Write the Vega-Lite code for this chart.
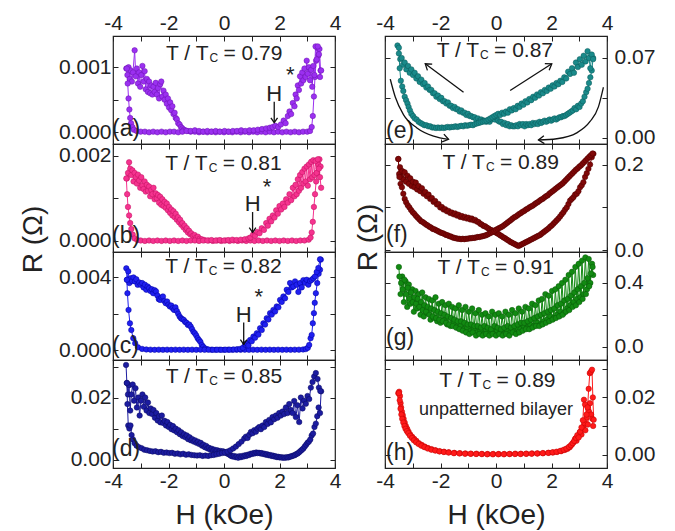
{
"$schema":"https://vega.github.io/schema/vega-lite/v6.json",
"background":"white",
"padding":{"left":18,"top":11,"right":5,"bottom":5},
"config":{
 "view":{"stroke":"#222","strokeWidth":1.2},
 "axis":{"grid":false,"domain":false,"ticks":true,"tickColor":"#222","tickSize":-5,"tickWidth":1,"labelFont":"Liberation Sans","labelFontSize":21,"labelColor":"#222","titleFont":"Liberation Sans","titleFontSize":28,"titleFontWeight":"normal","titleColor":"#222","labelFlush":false,"labelOverlap":false},
 "text":{"font":"Liberation Sans","color":"#222","baseline":"alphabetic"},
 "circle":{"size":30}
},
"bounds":"flush",
"columns":2,
"spacing":{"row":0,"column":50},
"datasets":{
"pa":[
{"b":"d","h":-3.52,"r":0.00098},{"b":"d","h":-3.48,"r":0.00088},{"b":"d","h":-3.44,"r":0.001},{"b":"d","h":-3.4,"r":0.00082},{"b":"d","h":-3.36,"r":0.00095},{"b":"d","h":-3.32,"r":0.00078},{"b":"d","h":-3.28,"r":0.00092},{"b":"d","h":-3.22,"r":0.00126},{"b":"d","h":-3.18,"r":0.00086},{"b":"d","h":-3.14,"r":0.00098},{"b":"d","h":-3.1,"r":0.00075},{"b":"d","h":-3.06,"r":0.00092},{"b":"d","h":-3.02,"r":0.0007},{"b":"d","h":-2.98,"r":0.00088},{"b":"d","h":-2.94,"r":0.00102},{"b":"d","h":-2.9,"r":0.00078},{"b":"d","h":-2.86,"r":0.00094},{"b":"d","h":-2.82,"r":0.00066},{"b":"d","h":-2.78,"r":0.00082},{"b":"d","h":-2.74,"r":0.00062},{"b":"d","h":-2.7,"r":0.00078},{"b":"d","h":-2.66,"r":0.0006},{"b":"d","h":-2.62,"r":0.00072},{"b":"d","h":-2.58,"r":0.00058},{"b":"d","h":-2.54,"r":0.0007},{"b":"d","h":-2.5,"r":0.00062},{"b":"d","h":-2.46,"r":0.00076},{"b":"d","h":-2.42,"r":0.00058},{"b":"d","h":-2.38,"r":0.00068},{"b":"d","h":-2.34,"r":0.00052},{"b":"d","h":-2.3,"r":0.00074},{"b":"d","h":-2.26,"r":0.00078},{"b":"d","h":-2.22,"r":0.00055},{"b":"d","h":-2.18,"r":0.00064},{"b":"d","h":-2.14,"r":0.0005},{"b":"d","h":-2.1,"r":0.00058},{"b":"d","h":-2.06,"r":0.00044},{"b":"d","h":-2.02,"r":0.00052},{"b":"d","h":-1.98,"r":0.00038},{"b":"d","h":-1.94,"r":0.00046},{"b":"d","h":-1.9,"r":0.00034},{"b":"d","h":-1.86,"r":0.0004},{"b":"d","h":-1.82,"r":0.00028},{"b":"d","h":-1.78,"r":0.0003},{"b":"d","h":-1.74,"r":0.00022},{"b":"d","h":-1.7,"r":0.0002},{"b":"d","h":-1.65,"r":0.00014},{"b":"d","h":-1.6,"r":0.00012},{"b":"d","h":-1.55,"r":0.00008},{"b":"d","h":-1.5,"r":0.00006},{"b":"d","h":-1.45,"r":0.00004},{"b":"d","h":-1.4,"r":0.00003},{"b":"d","h":-1.3,"r":0.00002},{"b":"d","h":-1.2,"r":0.00001},{"b":"d","h":-1.05,"r":0.00001},{"b":"d","h":-0.9,"r":0},{"b":"d","h":-0.75,"r":0.00001},{"b":"d","h":-0.6,"r":0},{"b":"d","h":-0.45,"r":0.00001},{"b":"d","h":-0.3,"r":0},{"b":"d","h":-0.15,"r":0.00001},{"b":"d","h":0,"r":0},{"b":"d","h":0.15,"r":0.00001},{"b":"d","h":0.3,"r":0},{"b":"d","h":0.45,"r":0.00001},{"b":"d","h":0.6,"r":0},{"b":"d","h":0.75,"r":0.00001},{"b":"d","h":0.9,"r":0},{"b":"d","h":1.05,"r":0.00001},{"b":"d","h":1.2,"r":0},{"b":"d","h":1.35,"r":0.00001},{"b":"d","h":1.5,"r":0},{"b":"d","h":1.65,"r":0.00001},{"b":"d","h":1.8,"r":0},{"b":"d","h":1.95,"r":0.00001},{"b":"d","h":2.1,"r":0},{"b":"d","h":2.25,"r":0.00001},{"b":"d","h":2.4,"r":0},{"b":"d","h":2.55,"r":0.00001},{"b":"d","h":2.7,"r":0},{"b":"d","h":2.85,"r":0.00001},{"b":"d","h":3,"r":0.00001},{"b":"d","h":3.1,"r":0.00002},{"b":"d","h":3.16,"r":0.00008},{"b":"d","h":3.2,"r":0.00025},{"b":"d","h":3.24,"r":0.00055},{"b":"d","h":3.28,"r":0.00085},{"b":"d","h":3.32,"r":0.0011},{"b":"d","h":3.36,"r":0.0013},{"b":"d","h":3.4,"r":0.00118},{"b":"d","h":3.44,"r":0.00128},{"b":"d","h":3.48,"r":0.00095},
{"b":"u","h":-3.5,"r":0.00098},{"b":"u","h":-3.47,"r":0.00075},{"b":"u","h":-3.44,"r":0.00052},{"b":"u","h":-3.41,"r":0.00035},{"b":"u","h":-3.38,"r":0.00022},{"b":"u","h":-3.35,"r":0.00014},{"b":"u","h":-3.3,"r":0.00008},{"b":"u","h":-3.25,"r":0.00004},{"b":"u","h":-3.15,"r":0.00002},{"b":"u","h":-3.0,"r":0.00001},{"b":"u","h":-2.85,"r":0.00001},{"b":"u","h":-2.7,"r":0},{"b":"u","h":-2.55,"r":0.00001},{"b":"u","h":-2.4,"r":0},{"b":"u","h":-2.25,"r":0.00001},{"b":"u","h":-2.1,"r":0},{"b":"u","h":-1.95,"r":0.00001},{"b":"u","h":-1.8,"r":0.00001},{"b":"u","h":-1.65,"r":0},{"b":"u","h":-1.5,"r":0.00001},{"b":"u","h":-1.35,"r":0.00002},{"b":"u","h":-1.2,"r":0.00002},{"b":"u","h":-1.05,"r":0.00003},{"b":"u","h":-0.9,"r":0.00002},{"b":"u","h":-0.75,"r":0.00001},{"b":"u","h":-0.6,"r":0.00002},{"b":"u","h":-0.45,"r":0.00001},{"b":"u","h":-0.3,"r":0.00002},{"b":"u","h":-0.15,"r":0.00001},{"b":"u","h":0.02,"r":0.00002},{"b":"u","h":0.17,"r":0.00001},{"b":"u","h":0.32,"r":0.00002},{"b":"u","h":0.47,"r":0.00002},{"b":"u","h":0.62,"r":0.00003},{"b":"u","h":0.77,"r":0.00002},{"b":"u","h":0.92,"r":0.00003},{"b":"u","h":1.07,"r":0.00003},{"b":"u","h":1.22,"r":0.00004},{"b":"u","h":1.37,"r":0.00005},{"b":"u","h":1.52,"r":0.00006},{"b":"u","h":1.65,"r":0.00007},{"b":"u","h":1.75,"r":0.00008},{"b":"u","h":1.85,"r":0.0001},{"b":"u","h":1.95,"r":0.00008},{"b":"u","h":2.05,"r":0.00012},{"b":"u","h":2.15,"r":0.00018},{"b":"u","h":2.22,"r":0.00014},{"b":"u","h":2.3,"r":0.00025},{"b":"u","h":2.36,"r":0.00032},{"b":"u","h":2.42,"r":0.00028},{"b":"u","h":2.48,"r":0.00045},{"b":"u","h":2.54,"r":0.0004},{"b":"u","h":2.58,"r":0.00058},{"b":"u","h":2.62,"r":0.00052},{"b":"u","h":2.66,"r":0.00072},{"b":"u","h":2.7,"r":0.00065},{"b":"u","h":2.74,"r":0.00086},{"b":"u","h":2.78,"r":0.00075},{"b":"u","h":2.82,"r":0.00092},{"b":"u","h":2.86,"r":0.0008},{"b":"u","h":2.9,"r":0.00098},{"b":"u","h":2.94,"r":0.00085},{"b":"u","h":2.98,"r":0.0011},{"b":"u","h":3.02,"r":0.0009},{"b":"u","h":3.06,"r":0.001},{"b":"u","h":3.1,"r":0.0008},{"b":"u","h":3.14,"r":0.00096},{"b":"u","h":3.18,"r":0.0007},{"b":"u","h":3.22,"r":0.00102},{"b":"u","h":3.26,"r":0.00088},{"b":"u","h":3.3,"r":0.00132},{"b":"u","h":3.34,"r":0.00112},{"b":"u","h":3.38,"r":0.00132},{"b":"u","h":3.42,"r":0.0012},{"b":"u","h":3.46,"r":0.00085},{"b":"u","h":3.5,"r":0.00095}
],
"pb":[
{"b":"d","h":-3.5,"r":0.00147},{"b":"d","h":-3.46,"r":0.0016},{"b":"d","h":-3.42,"r":0.00185},{"b":"d","h":-3.38,"r":0.0017},{"b":"d","h":-3.34,"r":0.00155},{"b":"d","h":-3.3,"r":0.00166},{"b":"d","h":-3.26,"r":0.0014},{"b":"d","h":-3.22,"r":0.0016},{"b":"d","h":-3.18,"r":0.0015},{"b":"d","h":-3.14,"r":0.00135},{"b":"d","h":-3.1,"r":0.00156},{"b":"d","h":-3.06,"r":0.00142},{"b":"d","h":-3.02,"r":0.00125},{"b":"d","h":-2.98,"r":0.0015},{"b":"d","h":-2.94,"r":0.0013},{"b":"d","h":-2.9,"r":0.00122},{"b":"d","h":-2.86,"r":0.0014},{"b":"d","h":-2.82,"r":0.00116},{"b":"d","h":-2.78,"r":0.00132},{"b":"d","h":-2.74,"r":0.00118},{"b":"d","h":-2.7,"r":0.00128},{"b":"d","h":-2.66,"r":0.00105},{"b":"d","h":-2.62,"r":0.0012},{"b":"d","h":-2.58,"r":0.0011},{"b":"d","h":-2.54,"r":0.00125},{"b":"d","h":-2.5,"r":0.00098},{"b":"d","h":-2.46,"r":0.00112},{"b":"d","h":-2.42,"r":0.001},{"b":"d","h":-2.38,"r":0.00108},{"b":"d","h":-2.34,"r":0.0009},{"b":"d","h":-2.3,"r":0.00104},{"b":"d","h":-2.26,"r":0.00085},{"b":"d","h":-2.22,"r":0.00098},{"b":"d","h":-2.18,"r":0.00082},{"b":"d","h":-2.14,"r":0.00092},{"b":"d","h":-2.1,"r":0.00078},{"b":"d","h":-2.06,"r":0.00088},{"b":"d","h":-2.02,"r":0.00072},{"b":"d","h":-1.98,"r":0.0008},{"b":"d","h":-1.94,"r":0.00066},{"b":"d","h":-1.9,"r":0.00074},{"b":"d","h":-1.86,"r":0.0006},{"b":"d","h":-1.82,"r":0.0007},{"b":"d","h":-1.78,"r":0.00056},{"b":"d","h":-1.74,"r":0.00064},{"b":"d","h":-1.7,"r":0.0005},{"b":"d","h":-1.66,"r":0.00056},{"b":"d","h":-1.62,"r":0.00044},{"b":"d","h":-1.58,"r":0.0005},{"b":"d","h":-1.54,"r":0.00038},{"b":"d","h":-1.5,"r":0.00042},{"b":"d","h":-1.46,"r":0.00032},{"b":"d","h":-1.42,"r":0.00036},{"b":"d","h":-1.38,"r":0.00026},{"b":"d","h":-1.34,"r":0.0003},{"b":"d","h":-1.3,"r":0.0002},{"b":"d","h":-1.26,"r":0.00024},{"b":"d","h":-1.22,"r":0.00016},{"b":"d","h":-1.18,"r":0.00018},{"b":"d","h":-1.12,"r":0.00012},{"b":"d","h":-1.06,"r":0.00014},{"b":"d","h":-1.0,"r":0.00008},{"b":"d","h":-0.94,"r":0.0001},{"b":"d","h":-0.88,"r":0.00005},{"b":"d","h":-0.8,"r":0.00004},{"b":"d","h":-0.7,"r":0.00002},{"b":"d","h":-0.55,"r":0.00001},{"b":"d","h":-0.4,"r":0},{"b":"d","h":-0.25,"r":0.00001},{"b":"d","h":-0.1,"r":0},{"b":"d","h":0.05,"r":0.00001},{"b":"d","h":0.2,"r":0},{"b":"d","h":0.35,"r":0.00001},{"b":"d","h":0.5,"r":0},{"b":"d","h":0.65,"r":0.00001},{"b":"d","h":0.8,"r":0},{"b":"d","h":0.95,"r":0.00001},{"b":"d","h":1.1,"r":0},{"b":"d","h":1.25,"r":0.00001},{"b":"d","h":1.4,"r":0},{"b":"d","h":1.55,"r":0.00001},{"b":"d","h":1.7,"r":0},{"b":"d","h":1.85,"r":0.00001},{"b":"d","h":2.0,"r":0},{"b":"d","h":2.15,"r":0.00001},{"b":"d","h":2.3,"r":0},{"b":"d","h":2.45,"r":0.00001},{"b":"d","h":2.6,"r":0},{"b":"d","h":2.75,"r":0.00001},{"b":"d","h":2.9,"r":0.00001},{"b":"d","h":3.05,"r":0.00003},{"b":"d","h":3.12,"r":0.00008},{"b":"d","h":3.16,"r":0.0002},{"b":"d","h":3.2,"r":0.00045},{"b":"d","h":3.24,"r":0.0008},{"b":"d","h":3.28,"r":0.0011},{"b":"d","h":3.32,"r":0.0014},{"b":"d","h":3.36,"r":0.0016},{"b":"d","h":3.4,"r":0.0018},{"b":"d","h":3.44,"r":0.00192},{"b":"d","h":3.48,"r":0.00175},
{"b":"u","h":-3.52,"r":0.00147},{"b":"u","h":-3.49,"r":0.0011},{"b":"u","h":-3.46,"r":0.0008},{"b":"u","h":-3.42,"r":0.0006},{"b":"u","h":-3.38,"r":0.00042},{"b":"u","h":-3.34,"r":0.00028},{"b":"u","h":-3.29,"r":0.00015},{"b":"u","h":-3.22,"r":0.00006},{"b":"u","h":-3.12,"r":0.00002},{"b":"u","h":-3.0,"r":0.00001},{"b":"u","h":-2.85,"r":0},{"b":"u","h":-2.7,"r":0.00001},{"b":"u","h":-2.55,"r":0},{"b":"u","h":-2.4,"r":0.00001},{"b":"u","h":-2.25,"r":0},{"b":"u","h":-2.1,"r":0.00001},{"b":"u","h":-1.95,"r":0},{"b":"u","h":-1.8,"r":0.00001},{"b":"u","h":-1.65,"r":0},{"b":"u","h":-1.5,"r":0.00001},{"b":"u","h":-1.35,"r":0},{"b":"u","h":-1.2,"r":0.00001},{"b":"u","h":-1.05,"r":0.00001},{"b":"u","h":-0.9,"r":0},{"b":"u","h":-0.75,"r":0.00001},{"b":"u","h":-0.6,"r":0.00001},{"b":"u","h":-0.45,"r":0.00002},{"b":"u","h":-0.3,"r":0.00001},{"b":"u","h":-0.15,"r":0.00002},{"b":"u","h":0.0,"r":0.00001},{"b":"u","h":0.15,"r":0.00002},{"b":"u","h":0.3,"r":0.00003},{"b":"u","h":0.45,"r":0.00002},{"b":"u","h":0.6,"r":0.00003},{"b":"u","h":0.75,"r":0.00004},{"b":"u","h":0.88,"r":0.00006},{"b":"u","h":0.95,"r":0.00008},{"b":"u","h":1.05,"r":0.00015},{"b":"u","h":1.12,"r":0.00012},{"b":"u","h":1.2,"r":0.00021},{"b":"u","h":1.28,"r":0.00018},{"b":"u","h":1.36,"r":0.0003},{"b":"u","h":1.44,"r":0.00026},{"b":"u","h":1.52,"r":0.00042},{"b":"u","h":1.58,"r":0.00036},{"b":"u","h":1.64,"r":0.00052},{"b":"u","h":1.7,"r":0.00046},{"b":"u","h":1.76,"r":0.0006},{"b":"u","h":1.82,"r":0.00055},{"b":"u","h":1.88,"r":0.00072},{"b":"u","h":1.94,"r":0.00064},{"b":"u","h":2.0,"r":0.00082},{"b":"u","h":2.06,"r":0.00074},{"b":"u","h":2.12,"r":0.00088},{"b":"u","h":2.18,"r":0.0008},{"b":"u","h":2.24,"r":0.00098},{"b":"u","h":2.3,"r":0.0009},{"b":"u","h":2.36,"r":0.0011},{"b":"u","h":2.42,"r":0.00096},{"b":"u","h":2.48,"r":0.00125},{"b":"u","h":2.54,"r":0.00105},{"b":"u","h":2.58,"r":0.00132},{"b":"u","h":2.62,"r":0.0011},{"b":"u","h":2.66,"r":0.00145},{"b":"u","h":2.7,"r":0.00118},{"b":"u","h":2.74,"r":0.00155},{"b":"u","h":2.78,"r":0.00125},{"b":"u","h":2.82,"r":0.00162},{"b":"u","h":2.86,"r":0.00135},{"b":"u","h":2.9,"r":0.0017},{"b":"u","h":2.94,"r":0.0014},{"b":"u","h":2.98,"r":0.00175},{"b":"u","h":3.02,"r":0.0013},{"b":"u","h":3.06,"r":0.0018},{"b":"u","h":3.1,"r":0.00145},{"b":"u","h":3.14,"r":0.00186},{"b":"u","h":3.18,"r":0.0015},{"b":"u","h":3.22,"r":0.0019},{"b":"u","h":3.26,"r":0.00155},{"b":"u","h":3.3,"r":0.00188},{"b":"u","h":3.34,"r":0.0016},{"b":"u","h":3.38,"r":0.00192},{"b":"u","h":3.42,"r":0.0017},{"b":"u","h":3.46,"r":0.0015},{"b":"u","h":3.5,"r":0.00125}
],
"pc":[
{"b":"d","h":-3.52,"r":0.0045},{"b":"d","h":-3.49,"r":0.00387},{"b":"d","h":-3.45,"r":0.00433},{"b":"d","h":-3.41,"r":0.00369},{"b":"d","h":-3.36,"r":0.00396},{"b":"d","h":-3.31,"r":0.0038},{"b":"d","h":-3.26,"r":0.004},{"b":"d","h":-3.21,"r":0.00378},{"b":"d","h":-3.16,"r":0.0039},{"b":"d","h":-3.11,"r":0.00359},{"b":"d","h":-3.05,"r":0.00372},{"b":"d","h":-3.0,"r":0.0036},{"b":"d","h":-2.95,"r":0.00369},{"b":"d","h":-2.9,"r":0.00345},{"b":"d","h":-2.85,"r":0.0036},{"b":"d","h":-2.8,"r":0.00332},{"b":"d","h":-2.75,"r":0.0035},{"b":"d","h":-2.7,"r":0.00341},{"b":"d","h":-2.65,"r":0.00325},{"b":"d","h":-2.6,"r":0.00335},{"b":"d","h":-2.55,"r":0.00313},{"b":"d","h":-2.5,"r":0.0033},{"b":"d","h":-2.45,"r":0.00323},{"b":"d","h":-2.4,"r":0.003},{"b":"d","h":-2.35,"r":0.0028},{"b":"d","h":-2.3,"r":0.00276},{"b":"d","h":-2.25,"r":0.0029},{"b":"d","h":-2.2,"r":0.00295},{"b":"d","h":-2.15,"r":0.0027},{"b":"d","h":-2.1,"r":0.00258},{"b":"d","h":-2.05,"r":0.00267},{"b":"d","h":-2.0,"r":0.0025},{"b":"d","h":-1.95,"r":0.0024},{"b":"d","h":-1.9,"r":0.00245},{"b":"d","h":-1.85,"r":0.0023},{"b":"d","h":-1.8,"r":0.00221},{"b":"d","h":-1.75,"r":0.00235},{"b":"d","h":-1.7,"r":0.00215},{"b":"d","h":-1.65,"r":0.002},{"b":"d","h":-1.6,"r":0.00185},{"b":"d","h":-1.55,"r":0.00175},{"b":"d","h":-1.5,"r":0.0017},{"b":"d","h":-1.45,"r":0.00166},{"b":"d","h":-1.4,"r":0.00155},{"b":"d","h":-1.35,"r":0.0015},{"b":"d","h":-1.3,"r":0.00138},{"b":"d","h":-1.25,"r":0.0014},{"b":"d","h":-1.2,"r":0.00129},{"b":"d","h":-1.15,"r":0.00115},{"b":"d","h":-1.1,"r":0.001},{"b":"d","h":-1.05,"r":0.00092},{"b":"d","h":-1.0,"r":0.0008},{"b":"d","h":-0.95,"r":0.00065},{"b":"d","h":-0.9,"r":0.00055},{"b":"d","h":-0.85,"r":0.00045},{"b":"d","h":-0.8,"r":0.00028},{"b":"d","h":-0.75,"r":0.00018},{"b":"d","h":-0.68,"r":0.00009},{"b":"d","h":-0.6,"r":0.00004},{"b":"d","h":-0.45,"r":0.00002},{"b":"d","h":-0.3,"r":0.00001},{"b":"d","h":-0.15,"r":0.00002},{"b":"d","h":0.0,"r":0.00001},{"b":"d","h":0.15,"r":0.00002},{"b":"d","h":0.3,"r":0.00001},{"b":"d","h":0.45,"r":0.00002},{"b":"d","h":0.6,"r":0.00001},{"b":"d","h":0.75,"r":0.00002},{"b":"d","h":0.9,"r":0.00001},{"b":"d","h":1.05,"r":0.00002},{"b":"d","h":1.2,"r":0.00001},{"b":"d","h":1.35,"r":0.00002},{"b":"d","h":1.5,"r":0.00001},{"b":"d","h":1.65,"r":0.00002},{"b":"d","h":1.8,"r":0.00001},{"b":"d","h":1.95,"r":0.00002},{"b":"d","h":2.1,"r":0.00001},{"b":"d","h":2.25,"r":0.00002},{"b":"d","h":2.4,"r":0.00001},{"b":"d","h":2.55,"r":0.00002},{"b":"d","h":2.7,"r":0.00002},{"b":"d","h":2.85,"r":0.00003},{"b":"d","h":2.95,"r":0.00005},{"b":"d","h":3.02,"r":0.00012},{"b":"d","h":3.07,"r":0.00028},{"b":"d","h":3.12,"r":0.00065},{"b":"d","h":3.16,"r":0.00083},{"b":"d","h":3.2,"r":0.00147},{"b":"d","h":3.24,"r":0.00203},{"b":"d","h":3.27,"r":0.0026},{"b":"d","h":3.31,"r":0.00313},{"b":"d","h":3.36,"r":0.00369},{"b":"d","h":3.41,"r":0.0042},{"b":"d","h":3.46,"r":0.00442},{"b":"d","h":3.49,"r":0.00498},
{"b":"u","h":-3.5,"r":0.00387},{"b":"u","h":-3.48,"r":0.00313},{"b":"u","h":-3.44,"r":0.00221},{"b":"u","h":-3.39,"r":0.00147},{"b":"u","h":-3.34,"r":0.0011},{"b":"u","h":-3.27,"r":0.00065},{"b":"u","h":-3.2,"r":0.00037},{"b":"u","h":-3.1,"r":0.00015},{"b":"u","h":-2.95,"r":0.00006},{"b":"u","h":-2.8,"r":0.00003},{"b":"u","h":-2.65,"r":0.00002},{"b":"u","h":-2.5,"r":0.00001},{"b":"u","h":-2.35,"r":0.00002},{"b":"u","h":-2.2,"r":0.00001},{"b":"u","h":-2.05,"r":0.00002},{"b":"u","h":-1.9,"r":0.00001},{"b":"u","h":-1.75,"r":0.00002},{"b":"u","h":-1.6,"r":0.00001},{"b":"u","h":-1.45,"r":0.00002},{"b":"u","h":-1.3,"r":0.00001},{"b":"u","h":-1.15,"r":0.00002},{"b":"u","h":-1.0,"r":0.00001},{"b":"u","h":-0.85,"r":0.00002},{"b":"u","h":-0.7,"r":0.00001},{"b":"u","h":-0.55,"r":0.00002},{"b":"u","h":-0.4,"r":0.00001},{"b":"u","h":-0.25,"r":0.00002},{"b":"u","h":-0.1,"r":0.00001},{"b":"u","h":0.05,"r":0.00002},{"b":"u","h":0.2,"r":0.00002},{"b":"u","h":0.35,"r":0.00003},{"b":"u","h":0.48,"r":0.00004},{"b":"u","h":0.58,"r":0.00006},{"b":"u","h":0.68,"r":0.00012},{"b":"u","h":0.76,"r":0.0003},{"b":"u","h":0.82,"r":0.00037},{"b":"u","h":0.88,"r":0.00025},{"b":"u","h":0.94,"r":0.00055},{"b":"u","h":1.0,"r":0.00048},{"b":"u","h":1.06,"r":0.00074},{"b":"u","h":1.12,"r":0.00068},{"b":"u","h":1.18,"r":0.00092},{"b":"u","h":1.24,"r":0.00085},{"b":"u","h":1.3,"r":0.0012},{"b":"u","h":1.36,"r":0.0011},{"b":"u","h":1.42,"r":0.00147},{"b":"u","h":1.48,"r":0.0014},{"b":"u","h":1.54,"r":0.00175},{"b":"u","h":1.6,"r":0.00168},{"b":"u","h":1.66,"r":0.00203},{"b":"u","h":1.72,"r":0.00195},{"b":"u","h":1.78,"r":0.00221},{"b":"u","h":1.84,"r":0.00212},{"b":"u","h":1.9,"r":0.0024},{"b":"u","h":1.96,"r":0.00235},{"b":"u","h":2.02,"r":0.00276},{"b":"u","h":2.08,"r":0.00265},{"b":"u","h":2.14,"r":0.00295},{"b":"u","h":2.2,"r":0.00285},{"b":"u","h":2.26,"r":0.00332},{"b":"u","h":2.32,"r":0.0032},{"b":"u","h":2.38,"r":0.00369},{"b":"u","h":2.44,"r":0.00345},{"b":"u","h":2.5,"r":0.0035},{"b":"u","h":2.56,"r":0.00378},{"b":"u","h":2.62,"r":0.0036},{"b":"u","h":2.68,"r":0.0032},{"b":"u","h":2.74,"r":0.00369},{"b":"u","h":2.8,"r":0.00345},{"b":"u","h":2.86,"r":0.00385},{"b":"u","h":2.92,"r":0.0037},{"b":"u","h":2.98,"r":0.00387},{"b":"u","h":3.04,"r":0.0036},{"b":"u","h":3.1,"r":0.0038},{"b":"u","h":3.16,"r":0.00387},{"b":"u","h":3.22,"r":0.00395},{"b":"u","h":3.28,"r":0.00405},{"b":"u","h":3.34,"r":0.0043},{"b":"u","h":3.4,"r":0.00452},{"b":"u","h":3.46,"r":0.005}
],
"pd":[
{"b":"d","h":-3.53,"r":0.0305},{"b":"d","h":-3.5,"r":0.0247},{"b":"d","h":-3.46,"r":0.021},{"b":"d","h":-3.42,"r":0.024},{"b":"d","h":-3.38,"r":0.0158},{"b":"d","h":-3.34,"r":0.021},{"b":"d","h":-3.29,"r":0.0242},{"b":"d","h":-3.24,"r":0.019},{"b":"d","h":-3.19,"r":0.023},{"b":"d","h":-3.14,"r":0.0168},{"b":"d","h":-3.09,"r":0.02},{"b":"d","h":-3.04,"r":0.0142},{"b":"d","h":-2.99,"r":0.019},{"b":"d","h":-2.94,"r":0.021},{"b":"d","h":-2.89,"r":0.017},{"b":"d","h":-2.84,"r":0.02},{"b":"d","h":-2.79,"r":0.0158},{"b":"d","h":-2.74,"r":0.0184},{"b":"d","h":-2.69,"r":0.015},{"b":"d","h":-2.64,"r":0.0165},{"b":"d","h":-2.59,"r":0.0147},{"b":"d","h":-2.54,"r":0.016},{"b":"d","h":-2.49,"r":0.0135},{"b":"d","h":-2.44,"r":0.015},{"b":"d","h":-2.39,"r":0.0126},{"b":"d","h":-2.34,"r":0.014},{"b":"d","h":-2.29,"r":0.012},{"b":"d","h":-2.24,"r":0.0142},{"b":"d","h":-2.19,"r":0.0118},{"b":"d","h":-2.14,"r":0.0125},{"b":"d","h":-2.09,"r":0.011},{"b":"d","h":-2.04,"r":0.0121},{"b":"d","h":-1.99,"r":0.0105},{"b":"d","h":-1.94,"r":0.0112},{"b":"d","h":-1.89,"r":0.0098},{"b":"d","h":-1.84,"r":0.0108},{"b":"d","h":-1.79,"r":0.0094},{"b":"d","h":-1.74,"r":0.01},{"b":"d","h":-1.69,"r":0.0088},{"b":"d","h":-1.64,"r":0.0095},{"b":"d","h":-1.59,"r":0.0082},{"b":"d","h":-1.54,"r":0.0088},{"b":"d","h":-1.49,"r":0.0076},{"b":"d","h":-1.44,"r":0.0082},{"b":"d","h":-1.39,"r":0.0072},{"b":"d","h":-1.34,"r":0.0078},{"b":"d","h":-1.29,"r":0.0066},{"b":"d","h":-1.24,"r":0.0072},{"b":"d","h":-1.19,"r":0.0062},{"b":"d","h":-1.14,"r":0.0066},{"b":"d","h":-1.09,"r":0.0058},{"b":"d","h":-1.04,"r":0.0062},{"b":"d","h":-0.99,"r":0.0054},{"b":"d","h":-0.94,"r":0.0058},{"b":"d","h":-0.89,"r":0.005},{"b":"d","h":-0.84,"r":0.0054},{"b":"d","h":-0.79,"r":0.0045},{"b":"d","h":-0.74,"r":0.0048},{"b":"d","h":-0.69,"r":0.004},{"b":"d","h":-0.64,"r":0.0044},{"b":"d","h":-0.59,"r":0.0036},{"b":"d","h":-0.54,"r":0.0038},{"b":"d","h":-0.49,"r":0.0032},{"b":"d","h":-0.44,"r":0.0035},{"b":"d","h":-0.39,"r":0.003},{"b":"d","h":-0.34,"r":0.0032},{"b":"d","h":-0.29,"r":0.0028},{"b":"d","h":-0.24,"r":0.003},{"b":"d","h":-0.19,"r":0.0026},{"b":"d","h":-0.14,"r":0.0028},{"b":"d","h":-0.09,"r":0.0025},{"b":"d","h":-0.04,"r":0.0027},{"b":"d","h":0.01,"r":0.0023},{"b":"d","h":0.06,"r":0.0024},{"b":"d","h":0.11,"r":0.002},{"b":"d","h":0.16,"r":0.0018},{"b":"d","h":0.21,"r":0.0015},{"b":"d","h":0.26,"r":0.0012},{"b":"d","h":0.31,"r":0.001},{"b":"d","h":0.36,"r":0.0012},{"b":"d","h":0.41,"r":0.0008},{"b":"d","h":0.46,"r":0.001},{"b":"d","h":0.51,"r":0.0006},{"b":"d","h":0.56,"r":0.0011},{"b":"d","h":0.61,"r":0.0008},{"b":"d","h":0.66,"r":0.0012},{"b":"d","h":0.71,"r":0.001},{"b":"d","h":0.76,"r":0.0014},{"b":"d","h":0.81,"r":0.0012},{"b":"d","h":0.86,"r":0.0016},{"b":"d","h":0.91,"r":0.0015},{"b":"d","h":0.96,"r":0.0019},{"b":"d","h":1.01,"r":0.0018},{"b":"d","h":1.06,"r":0.0021},{"b":"d","h":1.11,"r":0.002},{"b":"d","h":1.16,"r":0.0023},{"b":"d","h":1.21,"r":0.0021},{"b":"d","h":1.26,"r":0.0022},{"b":"d","h":1.31,"r":0.002},{"b":"d","h":1.36,"r":0.0021},{"b":"d","h":1.41,"r":0.0018},{"b":"d","h":1.46,"r":0.0019},{"b":"d","h":1.51,"r":0.0016},{"b":"d","h":1.56,"r":0.0017},{"b":"d","h":1.61,"r":0.0014},{"b":"d","h":1.66,"r":0.0015},{"b":"d","h":1.71,"r":0.0012},{"b":"d","h":1.76,"r":0.0013},{"b":"d","h":1.81,"r":0.001},{"b":"d","h":1.86,"r":0.0011},{"b":"d","h":1.91,"r":0.0008},{"b":"d","h":1.96,"r":0.0009},{"b":"d","h":2.01,"r":0.0007},{"b":"d","h":2.06,"r":0.0008},{"b":"d","h":2.11,"r":0.0006},{"b":"d","h":2.16,"r":0.0007},{"b":"d","h":2.21,"r":0.0006},{"b":"d","h":2.26,"r":0.0008},{"b":"d","h":2.31,"r":0.0007},{"b":"d","h":2.36,"r":0.0009},{"b":"d","h":2.41,"r":0.001},{"b":"d","h":2.46,"r":0.0012},{"b":"d","h":2.51,"r":0.0013},{"b":"d","h":2.56,"r":0.0015},{"b":"d","h":2.61,"r":0.0018},{"b":"d","h":2.66,"r":0.002},{"b":"d","h":2.71,"r":0.0024},{"b":"d","h":2.76,"r":0.0028},{"b":"d","h":2.81,"r":0.0032},{"b":"d","h":2.86,"r":0.0036},{"b":"d","h":2.91,"r":0.0042},{"b":"d","h":2.96,"r":0.0048},{"b":"d","h":3.01,"r":0.0054},{"b":"d","h":3.06,"r":0.0058},{"b":"d","h":3.11,"r":0.0065},{"b":"d","h":3.16,"r":0.0078},{"b":"d","h":3.21,"r":0.0084},{"b":"d","h":3.26,"r":0.0105},{"b":"d","h":3.31,"r":0.0116},{"b":"d","h":3.36,"r":0.014},{"b":"d","h":3.41,"r":0.0168},{"b":"d","h":3.46,"r":0.015},{"b":"d","h":3.5,"r":0.022},
{"b":"u","h":-3.5,"r":0.0247},{"b":"u","h":-3.48,"r":0.0179},{"b":"u","h":-3.45,"r":0.011},{"b":"u","h":-3.41,"r":0.01},{"b":"u","h":-3.37,"r":0.011},{"b":"u","h":-3.33,"r":0.0079},{"b":"u","h":-3.28,"r":0.0065},{"b":"u","h":-3.22,"r":0.0053},{"b":"u","h":-3.15,"r":0.0045},{"b":"u","h":-3.07,"r":0.004},{"b":"u","h":-2.97,"r":0.0037},{"b":"u","h":-2.87,"r":0.0032},{"b":"u","h":-2.77,"r":0.003},{"b":"u","h":-2.67,"r":0.0028},{"b":"u","h":-2.57,"r":0.0026},{"b":"u","h":-2.47,"r":0.0027},{"b":"u","h":-2.37,"r":0.0024},{"b":"u","h":-2.27,"r":0.0025},{"b":"u","h":-2.17,"r":0.0022},{"b":"u","h":-2.07,"r":0.0023},{"b":"u","h":-1.97,"r":0.0021},{"b":"u","h":-1.87,"r":0.0022},{"b":"u","h":-1.77,"r":0.0019},{"b":"u","h":-1.67,"r":0.002},{"b":"u","h":-1.57,"r":0.0017},{"b":"u","h":-1.47,"r":0.0019},{"b":"u","h":-1.37,"r":0.0016},{"b":"u","h":-1.27,"r":0.0017},{"b":"u","h":-1.17,"r":0.0015},{"b":"u","h":-1.07,"r":0.0014},{"b":"u","h":-0.97,"r":0.0013},{"b":"u","h":-0.87,"r":0.0014},{"b":"u","h":-0.77,"r":0.0012},{"b":"u","h":-0.67,"r":0.0013},{"b":"u","h":-0.57,"r":0.0012},{"b":"u","h":-0.47,"r":0.0014},{"b":"u","h":-0.37,"r":0.0015},{"b":"u","h":-0.27,"r":0.0017},{"b":"u","h":-0.17,"r":0.0019},{"b":"u","h":-0.07,"r":0.0021},{"b":"u","h":0.03,"r":0.0023},{"b":"u","h":0.13,"r":0.0026},{"b":"u","h":0.23,"r":0.003},{"b":"u","h":0.33,"r":0.0036},{"b":"u","h":0.43,"r":0.0042},{"b":"u","h":0.53,"r":0.005},{"b":"u","h":0.63,"r":0.0058},{"b":"u","h":0.73,"r":0.0068},{"b":"u","h":0.79,"r":0.0074},{"b":"u","h":0.85,"r":0.007},{"b":"u","h":0.91,"r":0.008},{"b":"u","h":0.97,"r":0.0089},{"b":"u","h":1.03,"r":0.0085},{"b":"u","h":1.09,"r":0.0095},{"b":"u","h":1.15,"r":0.009},{"b":"u","h":1.21,"r":0.01},{"b":"u","h":1.27,"r":0.0105},{"b":"u","h":1.33,"r":0.0098},{"b":"u","h":1.39,"r":0.011},{"b":"u","h":1.45,"r":0.0105},{"b":"u","h":1.51,"r":0.0121},{"b":"u","h":1.57,"r":0.0115},{"b":"u","h":1.63,"r":0.0128},{"b":"u","h":1.69,"r":0.012},{"b":"u","h":1.75,"r":0.0137},{"b":"u","h":1.81,"r":0.013},{"b":"u","h":1.87,"r":0.0142},{"b":"u","h":1.93,"r":0.0135},{"b":"u","h":1.99,"r":0.015},{"b":"u","h":2.05,"r":0.0142},{"b":"u","h":2.11,"r":0.0155},{"b":"u","h":2.17,"r":0.0147},{"b":"u","h":2.23,"r":0.0168},{"b":"u","h":2.29,"r":0.015},{"b":"u","h":2.35,"r":0.0179},{"b":"u","h":2.41,"r":0.016},{"b":"u","h":2.47,"r":0.015},{"b":"u","h":2.53,"r":0.0189},{"b":"u","h":2.59,"r":0.0137},{"b":"u","h":2.65,"r":0.0175},{"b":"u","h":2.71,"r":0.0121},{"b":"u","h":2.77,"r":0.02},{"b":"u","h":2.83,"r":0.0165},{"b":"u","h":2.89,"r":0.019},{"b":"u","h":2.95,"r":0.018},{"b":"u","h":3.01,"r":0.0205},{"b":"u","h":3.07,"r":0.0195},{"b":"u","h":3.13,"r":0.0232},{"b":"u","h":3.19,"r":0.025},{"b":"u","h":3.25,"r":0.0268},{"b":"u","h":3.31,"r":0.0279},{"b":"u","h":3.37,"r":0.026},{"b":"u","h":3.42,"r":0.0232},{"b":"u","h":3.47,"r":0.0221}
],
"pe":[
{"b":"d","h":-3.55,"r":0.081},{"b":"d","h":-3.5,"r":0.074},{"b":"d","h":-3.45,"r":0.069},{"b":"d","h":-3.4,"r":0.07},{"b":"d","h":-3.35,"r":0.064},{"b":"d","h":-3.29,"r":0.066},{"b":"d","h":-3.23,"r":0.06},{"b":"d","h":-3.17,"r":0.063},{"b":"d","h":-3.11,"r":0.057},{"b":"d","h":-3.05,"r":0.06},{"b":"d","h":-2.99,"r":0.055},{"b":"d","h":-2.93,"r":0.057},{"b":"d","h":-2.87,"r":0.052},{"b":"d","h":-2.81,"r":0.054},{"b":"d","h":-2.75,"r":0.049},{"b":"d","h":-2.69,"r":0.051},{"b":"d","h":-2.63,"r":0.047},{"b":"d","h":-2.57,"r":0.048},{"b":"d","h":-2.51,"r":0.044},{"b":"d","h":-2.45,"r":0.045},{"b":"d","h":-2.39,"r":0.042},{"b":"d","h":-2.33,"r":0.042},{"b":"d","h":-2.27,"r":0.039},{"b":"d","h":-2.21,"r":0.039},{"b":"d","h":-2.15,"r":0.036},{"b":"d","h":-2.09,"r":0.037},{"b":"d","h":-2.03,"r":0.034},{"b":"d","h":-1.97,"r":0.035},{"b":"d","h":-1.91,"r":0.032},{"b":"d","h":-1.85,"r":0.032},{"b":"d","h":-1.79,"r":0.03},{"b":"d","h":-1.73,"r":0.031},{"b":"d","h":-1.67,"r":0.028},{"b":"d","h":-1.61,"r":0.028},{"b":"d","h":-1.55,"r":0.026},{"b":"d","h":-1.49,"r":0.027},{"b":"d","h":-1.43,"r":0.025},{"b":"d","h":-1.37,"r":0.025},{"b":"d","h":-1.31,"r":0.023},{"b":"d","h":-1.25,"r":0.024},{"b":"d","h":-1.19,"r":0.022},{"b":"d","h":-1.13,"r":0.022},{"b":"d","h":-1.07,"r":0.02},{"b":"d","h":-1.01,"r":0.021},{"b":"d","h":-0.95,"r":0.019},{"b":"d","h":-0.89,"r":0.019},{"b":"d","h":-0.83,"r":0.018},{"b":"d","h":-0.77,"r":0.018},{"b":"d","h":-0.71,"r":0.016},{"b":"d","h":-0.65,"r":0.017},{"b":"d","h":-0.59,"r":0.015},{"b":"d","h":-0.53,"r":0.016},{"b":"d","h":-0.47,"r":0.015},{"b":"d","h":-0.41,"r":0.015},{"b":"d","h":-0.35,"r":0.014},{"b":"d","h":-0.29,"r":0.015},{"b":"d","h":-0.23,"r":0.014},{"b":"d","h":-0.17,"r":0.016},{"b":"d","h":-0.11,"r":0.017},{"b":"d","h":-0.05,"r":0.016},{"b":"d","h":0.01,"r":0.018},{"b":"d","h":0.07,"r":0.015},{"b":"d","h":0.13,"r":0.014},{"b":"d","h":0.19,"r":0.014},{"b":"d","h":0.25,"r":0.012},{"b":"d","h":0.31,"r":0.013},{"b":"d","h":0.37,"r":0.011},{"b":"d","h":0.43,"r":0.012},{"b":"d","h":0.49,"r":0.01},{"b":"d","h":0.55,"r":0.011},{"b":"d","h":0.61,"r":0.01},{"b":"d","h":0.67,"r":0.01},{"b":"d","h":0.73,"r":0.011},{"b":"d","h":0.79,"r":0.01},{"b":"d","h":0.85,"r":0.012},{"b":"d","h":0.91,"r":0.011},{"b":"d","h":0.97,"r":0.012},{"b":"d","h":1.03,"r":0.01},{"b":"d","h":1.09,"r":0.012},{"b":"d","h":1.15,"r":0.011},{"b":"d","h":1.21,"r":0.012},{"b":"d","h":1.27,"r":0.011},{"b":"d","h":1.33,"r":0.013},{"b":"d","h":1.39,"r":0.012},{"b":"d","h":1.45,"r":0.013},{"b":"d","h":1.51,"r":0.012},{"b":"d","h":1.57,"r":0.014},{"b":"d","h":1.63,"r":0.013},{"b":"d","h":1.69,"r":0.014},{"b":"d","h":1.75,"r":0.015},{"b":"d","h":1.81,"r":0.014},{"b":"d","h":1.87,"r":0.015},{"b":"d","h":1.93,"r":0.016},{"b":"d","h":1.99,"r":0.015},{"b":"d","h":2.05,"r":0.016},{"b":"d","h":2.11,"r":0.017},{"b":"d","h":2.17,"r":0.016},{"b":"d","h":2.23,"r":0.017},{"b":"d","h":2.29,"r":0.018},{"b":"d","h":2.35,"r":0.018},{"b":"d","h":2.41,"r":0.019},{"b":"d","h":2.47,"r":0.019},{"b":"d","h":2.53,"r":0.02},{"b":"d","h":2.59,"r":0.021},{"b":"d","h":2.65,"r":0.022},{"b":"d","h":2.71,"r":0.023},{"b":"d","h":2.77,"r":0.024},{"b":"d","h":2.83,"r":0.026},{"b":"d","h":2.89,"r":0.025},{"b":"d","h":2.95,"r":0.028},{"b":"d","h":3.01,"r":0.027},{"b":"d","h":3.07,"r":0.03},{"b":"d","h":3.13,"r":0.032},{"b":"d","h":3.19,"r":0.036},{"b":"d","h":3.25,"r":0.04},{"b":"d","h":3.3,"r":0.043},{"b":"d","h":3.35,"r":0.048},{"b":"d","h":3.4,"r":0.053},{"b":"d","h":3.45,"r":0.059},{"b":"d","h":3.5,"r":0.07},
{"b":"u","h":-3.5,"r":0.079},{"b":"u","h":-3.47,"r":0.061},{"b":"u","h":-3.43,"r":0.05},{"b":"u","h":-3.38,"r":0.045},{"b":"u","h":-3.34,"r":0.041},{"b":"u","h":-3.29,"r":0.036},{"b":"u","h":-3.24,"r":0.033},{"b":"u","h":-3.19,"r":0.03},{"b":"u","h":-3.15,"r":0.027},{"b":"u","h":-3.1,"r":0.024},{"b":"u","h":-3.05,"r":0.021},{"b":"u","h":-2.99,"r":0.019},{"b":"u","h":-2.93,"r":0.017},{"b":"u","h":-2.86,"r":0.016},{"b":"u","h":-2.79,"r":0.014},{"b":"u","h":-2.72,"r":0.013},{"b":"u","h":-2.65,"r":0.012},{"b":"u","h":-2.58,"r":0.011},{"b":"u","h":-2.51,"r":0.011},{"b":"u","h":-2.44,"r":0.01},{"b":"u","h":-2.37,"r":0.01},{"b":"u","h":-2.3,"r":0.009},{"b":"u","h":-2.23,"r":0.009},{"b":"u","h":-2.16,"r":0.0085},{"b":"u","h":-2.09,"r":0.009},{"b":"u","h":-2.02,"r":0.0085},{"b":"u","h":-1.95,"r":0.009},{"b":"u","h":-1.88,"r":0.0085},{"b":"u","h":-1.81,"r":0.009},{"b":"u","h":-1.74,"r":0.0095},{"b":"u","h":-1.67,"r":0.009},{"b":"u","h":-1.6,"r":0.0095},{"b":"u","h":-1.53,"r":0.0095},{"b":"u","h":-1.46,"r":0.01},{"b":"u","h":-1.39,"r":0.0095},{"b":"u","h":-1.32,"r":0.01},{"b":"u","h":-1.25,"r":0.0105},{"b":"u","h":-1.18,"r":0.01},{"b":"u","h":-1.11,"r":0.011},{"b":"u","h":-1.04,"r":0.0105},{"b":"u","h":-0.97,"r":0.011},{"b":"u","h":-0.9,"r":0.0115},{"b":"u","h":-0.83,"r":0.011},{"b":"u","h":-0.76,"r":0.012},{"b":"u","h":-0.69,"r":0.0125},{"b":"u","h":-0.62,"r":0.013},{"b":"u","h":-0.55,"r":0.0135},{"b":"u","h":-0.48,"r":0.014},{"b":"u","h":-0.41,"r":0.0145},{"b":"u","h":-0.34,"r":0.015},{"b":"u","h":-0.27,"r":0.016},{"b":"u","h":-0.2,"r":0.017},{"b":"u","h":-0.13,"r":0.018},{"b":"u","h":-0.06,"r":0.019},{"b":"u","h":0.01,"r":0.02},{"b":"u","h":0.08,"r":0.021},{"b":"u","h":0.15,"r":0.02},{"b":"u","h":0.22,"r":0.022},{"b":"u","h":0.29,"r":0.021},{"b":"u","h":0.36,"r":0.023},{"b":"u","h":0.43,"r":0.022},{"b":"u","h":0.5,"r":0.025},{"b":"u","h":0.57,"r":0.024},{"b":"u","h":0.64,"r":0.026},{"b":"u","h":0.71,"r":0.025},{"b":"u","h":0.78,"r":0.028},{"b":"u","h":0.85,"r":0.027},{"b":"u","h":0.92,"r":0.03},{"b":"u","h":0.99,"r":0.029},{"b":"u","h":1.06,"r":0.032},{"b":"u","h":1.13,"r":0.031},{"b":"u","h":1.2,"r":0.034},{"b":"u","h":1.27,"r":0.033},{"b":"u","h":1.34,"r":0.036},{"b":"u","h":1.41,"r":0.035},{"b":"u","h":1.48,"r":0.038},{"b":"u","h":1.55,"r":0.037},{"b":"u","h":1.62,"r":0.04},{"b":"u","h":1.69,"r":0.039},{"b":"u","h":1.76,"r":0.042},{"b":"u","h":1.83,"r":0.041},{"b":"u","h":1.9,"r":0.044},{"b":"u","h":1.97,"r":0.043},{"b":"u","h":2.04,"r":0.046},{"b":"u","h":2.11,"r":0.045},{"b":"u","h":2.18,"r":0.048},{"b":"u","h":2.25,"r":0.047},{"b":"u","h":2.32,"r":0.05},{"b":"u","h":2.39,"r":0.049},{"b":"u","h":2.46,"r":0.053},{"b":"u","h":2.53,"r":0.052},{"b":"u","h":2.6,"r":0.058},{"b":"u","h":2.67,"r":0.056},{"b":"u","h":2.74,"r":0.061},{"b":"u","h":2.81,"r":0.057},{"b":"u","h":2.88,"r":0.066},{"b":"u","h":2.95,"r":0.062},{"b":"u","h":3.02,"r":0.069},{"b":"u","h":3.09,"r":0.064},{"b":"u","h":3.16,"r":0.072},{"b":"u","h":3.23,"r":0.067},{"b":"u","h":3.3,"r":0.076},{"b":"u","h":3.35,"r":0.07},{"b":"u","h":3.4,"r":0.061},{"b":"u","h":3.45,"r":0.073},{"b":"u","h":3.5,"r":0.069}
],
"pf":[
{"b":"d","h":-3.52,"r":0.213},{"b":"d","h":-3.49,"r":0.178},{"b":"d","h":-3.46,"r":0.194},{"b":"d","h":-3.42,"r":0.171},{"b":"d","h":-3.38,"r":0.185},{"b":"d","h":-3.34,"r":0.165},{"b":"d","h":-3.29,"r":0.182},{"b":"d","h":-3.24,"r":0.16},{"b":"d","h":-3.19,"r":0.174},{"b":"d","h":-3.14,"r":0.155},{"b":"d","h":-3.09,"r":0.168},{"b":"d","h":-3.04,"r":0.15},{"b":"d","h":-2.99,"r":0.16},{"b":"d","h":-2.94,"r":0.147},{"b":"d","h":-2.89,"r":0.158},{"b":"d","h":-2.84,"r":0.142},{"b":"d","h":-2.79,"r":0.15},{"b":"d","h":-2.73,"r":0.138},{"b":"d","h":-2.67,"r":0.145},{"b":"d","h":-2.61,"r":0.132},{"b":"d","h":-2.55,"r":0.136},{"b":"d","h":-2.49,"r":0.126},{"b":"d","h":-2.43,"r":0.13},{"b":"d","h":-2.37,"r":0.12},{"b":"d","h":-2.31,"r":0.122},{"b":"d","h":-2.25,"r":0.113},{"b":"d","h":-2.19,"r":0.115},{"b":"d","h":-2.13,"r":0.107},{"b":"d","h":-2.07,"r":0.108},{"b":"d","h":-2.01,"r":0.1},{"b":"d","h":-1.95,"r":0.101},{"b":"d","h":-1.89,"r":0.095},{"b":"d","h":-1.83,"r":0.096},{"b":"d","h":-1.77,"r":0.091},{"b":"d","h":-1.71,"r":0.092},{"b":"d","h":-1.65,"r":0.087},{"b":"d","h":-1.59,"r":0.088},{"b":"d","h":-1.53,"r":0.084},{"b":"d","h":-1.47,"r":0.086},{"b":"d","h":-1.41,"r":0.081},{"b":"d","h":-1.35,"r":0.083},{"b":"d","h":-1.29,"r":0.078},{"b":"d","h":-1.23,"r":0.08},{"b":"d","h":-1.17,"r":0.076},{"b":"d","h":-1.11,"r":0.078},{"b":"d","h":-1.05,"r":0.074},{"b":"d","h":-0.99,"r":0.076},{"b":"d","h":-0.93,"r":0.072},{"b":"d","h":-0.87,"r":0.074},{"b":"d","h":-0.81,"r":0.07},{"b":"d","h":-0.75,"r":0.071},{"b":"d","h":-0.69,"r":0.067},{"b":"d","h":-0.63,"r":0.066},{"b":"d","h":-0.57,"r":0.062},{"b":"d","h":-0.51,"r":0.06},{"b":"d","h":-0.45,"r":0.057},{"b":"d","h":-0.39,"r":0.056},{"b":"d","h":-0.33,"r":0.053},{"b":"d","h":-0.27,"r":0.051},{"b":"d","h":-0.21,"r":0.048},{"b":"d","h":-0.15,"r":0.047},{"b":"d","h":-0.09,"r":0.044},{"b":"d","h":-0.03,"r":0.043},{"b":"d","h":0.03,"r":0.04},{"b":"d","h":0.09,"r":0.038},{"b":"d","h":0.15,"r":0.035},{"b":"d","h":0.21,"r":0.033},{"b":"d","h":0.27,"r":0.03},{"b":"d","h":0.33,"r":0.028},{"b":"d","h":0.39,"r":0.025},{"b":"d","h":0.45,"r":0.023},{"b":"d","h":0.51,"r":0.02},{"b":"d","h":0.57,"r":0.018},{"b":"d","h":0.63,"r":0.016},{"b":"d","h":0.69,"r":0.014},{"b":"d","h":0.75,"r":0.012},{"b":"d","h":0.81,"r":0.01},{"b":"d","h":0.87,"r":0.012},{"b":"d","h":0.93,"r":0.014},{"b":"d","h":0.99,"r":0.016},{"b":"d","h":1.05,"r":0.018},{"b":"d","h":1.11,"r":0.02},{"b":"d","h":1.17,"r":0.022},{"b":"d","h":1.23,"r":0.024},{"b":"d","h":1.29,"r":0.026},{"b":"d","h":1.35,"r":0.028},{"b":"d","h":1.41,"r":0.03},{"b":"d","h":1.47,"r":0.032},{"b":"d","h":1.53,"r":0.034},{"b":"d","h":1.59,"r":0.036},{"b":"d","h":1.65,"r":0.039},{"b":"d","h":1.71,"r":0.042},{"b":"d","h":1.77,"r":0.045},{"b":"d","h":1.83,"r":0.048},{"b":"d","h":1.89,"r":0.051},{"b":"d","h":1.95,"r":0.055},{"b":"d","h":2.01,"r":0.058},{"b":"d","h":2.07,"r":0.062},{"b":"d","h":2.13,"r":0.066},{"b":"d","h":2.19,"r":0.07},{"b":"d","h":2.25,"r":0.074},{"b":"d","h":2.31,"r":0.079},{"b":"d","h":2.37,"r":0.084},{"b":"d","h":2.43,"r":0.089},{"b":"d","h":2.49,"r":0.095},{"b":"d","h":2.55,"r":0.1},{"b":"d","h":2.61,"r":0.108},{"b":"d","h":2.67,"r":0.116},{"b":"d","h":2.73,"r":0.12},{"b":"d","h":2.79,"r":0.124},{"b":"d","h":2.85,"r":0.13},{"b":"d","h":2.91,"r":0.132},{"b":"d","h":2.97,"r":0.138},{"b":"d","h":3.03,"r":0.147},{"b":"d","h":3.09,"r":0.152},{"b":"d","h":3.15,"r":0.159},{"b":"d","h":3.21,"r":0.171},{"b":"d","h":3.27,"r":0.18},{"b":"d","h":3.33,"r":0.19},{"b":"d","h":3.39,"r":0.2},{"b":"d","h":3.45,"r":0.217},{"b":"d","h":3.51,"r":0.225},
{"b":"u","h":-3.52,"r":0.213},{"b":"u","h":-3.48,"r":0.171},{"b":"u","h":-3.44,"r":0.155},{"b":"u","h":-3.39,"r":0.147},{"b":"u","h":-3.34,"r":0.132},{"b":"u","h":-3.29,"r":0.12},{"b":"u","h":-3.24,"r":0.112},{"b":"u","h":-3.18,"r":0.105},{"b":"u","h":-3.12,"r":0.1},{"b":"u","h":-3.06,"r":0.094},{"b":"u","h":-3.0,"r":0.089},{"b":"u","h":-2.94,"r":0.085},{"b":"u","h":-2.88,"r":0.08},{"b":"u","h":-2.82,"r":0.076},{"b":"u","h":-2.76,"r":0.072},{"b":"u","h":-2.7,"r":0.068},{"b":"u","h":-2.64,"r":0.066},{"b":"u","h":-2.58,"r":0.063},{"b":"u","h":-2.52,"r":0.06},{"b":"u","h":-2.46,"r":0.058},{"b":"u","h":-2.4,"r":0.055},{"b":"u","h":-2.34,"r":0.053},{"b":"u","h":-2.28,"r":0.05},{"b":"u","h":-2.22,"r":0.049},{"b":"u","h":-2.16,"r":0.047},{"b":"u","h":-2.1,"r":0.045},{"b":"u","h":-2.04,"r":0.043},{"b":"u","h":-1.98,"r":0.041},{"b":"u","h":-1.92,"r":0.04},{"b":"u","h":-1.86,"r":0.038},{"b":"u","h":-1.8,"r":0.036},{"b":"u","h":-1.74,"r":0.035},{"b":"u","h":-1.68,"r":0.033},{"b":"u","h":-1.62,"r":0.032},{"b":"u","h":-1.56,"r":0.03},{"b":"u","h":-1.5,"r":0.029},{"b":"u","h":-1.44,"r":0.028},{"b":"u","h":-1.38,"r":0.027},{"b":"u","h":-1.32,"r":0.027},{"b":"u","h":-1.26,"r":0.026},{"b":"u","h":-1.2,"r":0.027},{"b":"u","h":-1.14,"r":0.026},{"b":"u","h":-1.08,"r":0.027},{"b":"u","h":-1.02,"r":0.027},{"b":"u","h":-0.96,"r":0.028},{"b":"u","h":-0.9,"r":0.028},{"b":"u","h":-0.84,"r":0.029},{"b":"u","h":-0.78,"r":0.029},{"b":"u","h":-0.72,"r":0.03},{"b":"u","h":-0.66,"r":0.031},{"b":"u","h":-0.6,"r":0.031},{"b":"u","h":-0.54,"r":0.032},{"b":"u","h":-0.48,"r":0.033},{"b":"u","h":-0.42,"r":0.034},{"b":"u","h":-0.36,"r":0.035},{"b":"u","h":-0.3,"r":0.037},{"b":"u","h":-0.24,"r":0.039},{"b":"u","h":-0.18,"r":0.041},{"b":"u","h":-0.12,"r":0.043},{"b":"u","h":-0.06,"r":0.045},{"b":"u","h":0.0,"r":0.048},{"b":"u","h":0.06,"r":0.05},{"b":"u","h":0.12,"r":0.052},{"b":"u","h":0.18,"r":0.054},{"b":"u","h":0.24,"r":0.056},{"b":"u","h":0.3,"r":0.059},{"b":"u","h":0.36,"r":0.062},{"b":"u","h":0.42,"r":0.065},{"b":"u","h":0.48,"r":0.068},{"b":"u","h":0.54,"r":0.071},{"b":"u","h":0.6,"r":0.074},{"b":"u","h":0.66,"r":0.077},{"b":"u","h":0.72,"r":0.079},{"b":"u","h":0.78,"r":0.082},{"b":"u","h":0.84,"r":0.085},{"b":"u","h":0.9,"r":0.087},{"b":"u","h":0.96,"r":0.09},{"b":"u","h":1.02,"r":0.092},{"b":"u","h":1.08,"r":0.095},{"b":"u","h":1.14,"r":0.097},{"b":"u","h":1.2,"r":0.1},{"b":"u","h":1.26,"r":0.102},{"b":"u","h":1.32,"r":0.104},{"b":"u","h":1.38,"r":0.107},{"b":"u","h":1.44,"r":0.11},{"b":"u","h":1.5,"r":0.112},{"b":"u","h":1.56,"r":0.115},{"b":"u","h":1.62,"r":0.118},{"b":"u","h":1.68,"r":0.12},{"b":"u","h":1.74,"r":0.123},{"b":"u","h":1.8,"r":0.126},{"b":"u","h":1.86,"r":0.128},{"b":"u","h":1.92,"r":0.132},{"b":"u","h":1.98,"r":0.135},{"b":"u","h":2.04,"r":0.138},{"b":"u","h":2.1,"r":0.141},{"b":"u","h":2.16,"r":0.144},{"b":"u","h":2.22,"r":0.147},{"b":"u","h":2.28,"r":0.15},{"b":"u","h":2.34,"r":0.153},{"b":"u","h":2.4,"r":0.156},{"b":"u","h":2.46,"r":0.16},{"b":"u","h":2.52,"r":0.164},{"b":"u","h":2.58,"r":0.168},{"b":"u","h":2.64,"r":0.172},{"b":"u","h":2.7,"r":0.176},{"b":"u","h":2.76,"r":0.18},{"b":"u","h":2.82,"r":0.184},{"b":"u","h":2.88,"r":0.188},{"b":"u","h":2.94,"r":0.191},{"b":"u","h":3.0,"r":0.195},{"b":"u","h":3.06,"r":0.198},{"b":"u","h":3.12,"r":0.202},{"b":"u","h":3.18,"r":0.206},{"b":"u","h":3.24,"r":0.21},{"b":"u","h":3.3,"r":0.214},{"b":"u","h":3.36,"r":0.218},{"b":"u","h":3.42,"r":0.222},{"b":"u","h":3.48,"r":0.226}
],
"pg":[
{"b":"u","h":-3.5,"r":0.5},{"b":"u","h":-3.44,"r":0.33},{"b":"u","h":-3.38,"r":0.44},{"b":"u","h":-3.32,"r":0.28},{"b":"u","h":-3.26,"r":0.41},{"b":"u","h":-3.2,"r":0.25},{"b":"u","h":-3.14,"r":0.39},{"b":"u","h":-3.08,"r":0.27},{"b":"u","h":-3.02,"r":0.36},{"b":"u","h":-2.96,"r":0.22},{"b":"u","h":-2.9,"r":0.35},{"b":"u","h":-2.84,"r":0.24},{"b":"u","h":-2.78,"r":0.33},{"b":"u","h":-2.72,"r":0.2},{"b":"u","h":-2.66,"r":0.34},{"b":"u","h":-2.6,"r":0.19},{"b":"u","h":-2.54,"r":0.31},{"b":"u","h":-2.48,"r":0.21},{"b":"u","h":-2.42,"r":0.3},{"b":"u","h":-2.36,"r":0.17},{"b":"u","h":-2.3,"r":0.29},{"b":"u","h":-2.24,"r":0.18},{"b":"u","h":-2.18,"r":0.31},{"b":"u","h":-2.12,"r":0.16},{"b":"u","h":-2.06,"r":0.27},{"b":"u","h":-2.0,"r":0.15},{"b":"u","h":-1.94,"r":0.28},{"b":"u","h":-1.88,"r":0.17},{"b":"u","h":-1.82,"r":0.26},{"b":"u","h":-1.76,"r":0.14},{"b":"u","h":-1.7,"r":0.27},{"b":"u","h":-1.64,"r":0.13},{"b":"u","h":-1.58,"r":0.25},{"b":"u","h":-1.52,"r":0.15},{"b":"u","h":-1.46,"r":0.24},{"b":"u","h":-1.4,"r":0.12},{"b":"u","h":-1.34,"r":0.26},{"b":"u","h":-1.28,"r":0.13},{"b":"u","h":-1.22,"r":0.23},{"b":"u","h":-1.16,"r":0.11},{"b":"u","h":-1.1,"r":0.25},{"b":"u","h":-1.04,"r":0.12},{"b":"u","h":-0.98,"r":0.22},{"b":"u","h":-0.92,"r":0.1},{"b":"u","h":-0.86,"r":0.24},{"b":"u","h":-0.8,"r":0.11},{"b":"u","h":-0.74,"r":0.21},{"b":"u","h":-0.68,"r":0.09},{"b":"u","h":-0.62,"r":0.23},{"b":"u","h":-0.56,"r":0.1},{"b":"u","h":-0.5,"r":0.2},{"b":"u","h":-0.44,"r":0.08},{"b":"u","h":-0.38,"r":0.21},{"b":"u","h":-0.32,"r":0.1},{"b":"u","h":-0.26,"r":0.19},{"b":"u","h":-0.2,"r":0.09},{"b":"u","h":-0.14,"r":0.22},{"b":"u","h":-0.08,"r":0.11},{"b":"u","h":-0.02,"r":0.2},{"b":"u","h":0.04,"r":0.1},{"b":"u","h":0.1,"r":0.21},{"b":"u","h":0.16,"r":0.09},{"b":"u","h":0.22,"r":0.19},{"b":"u","h":0.28,"r":0.11},{"b":"u","h":0.34,"r":0.22},{"b":"u","h":0.4,"r":0.1},{"b":"u","h":0.46,"r":0.2},{"b":"u","h":0.52,"r":0.09},{"b":"u","h":0.58,"r":0.23},{"b":"u","h":0.64,"r":0.1},{"b":"u","h":0.7,"r":0.21},{"b":"u","h":0.76,"r":0.12},{"b":"u","h":0.82,"r":0.24},{"b":"u","h":0.88,"r":0.11},{"b":"u","h":0.94,"r":0.22},{"b":"u","h":1.0,"r":0.13},{"b":"u","h":1.06,"r":0.25},{"b":"u","h":1.12,"r":0.12},{"b":"u","h":1.18,"r":0.24},{"b":"u","h":1.24,"r":0.14},{"b":"u","h":1.3,"r":0.27},{"b":"u","h":1.36,"r":0.13},{"b":"u","h":1.42,"r":0.26},{"b":"u","h":1.48,"r":0.15},{"b":"u","h":1.54,"r":0.29},{"b":"u","h":1.6,"r":0.14},{"b":"u","h":1.66,"r":0.3},{"b":"u","h":1.72,"r":0.16},{"b":"u","h":1.78,"r":0.33},{"b":"u","h":1.84,"r":0.17},{"b":"u","h":1.9,"r":0.32},{"b":"u","h":1.96,"r":0.19},{"b":"u","h":2.02,"r":0.35},{"b":"u","h":2.08,"r":0.18},{"b":"u","h":2.14,"r":0.36},{"b":"u","h":2.2,"r":0.2},{"b":"u","h":2.26,"r":0.38},{"b":"u","h":2.32,"r":0.22},{"b":"u","h":2.38,"r":0.4},{"b":"u","h":2.44,"r":0.21},{"b":"u","h":2.5,"r":0.42},{"b":"u","h":2.56,"r":0.24},{"b":"u","h":2.62,"r":0.45},{"b":"u","h":2.68,"r":0.26},{"b":"u","h":2.74,"r":0.47},{"b":"u","h":2.8,"r":0.28},{"b":"u","h":2.86,"r":0.5},{"b":"u","h":2.92,"r":0.3},{"b":"u","h":2.98,"r":0.52},{"b":"u","h":3.04,"r":0.31},{"b":"u","h":3.1,"r":0.54},{"b":"u","h":3.16,"r":0.33},{"b":"u","h":3.22,"r":0.56},{"b":"u","h":3.28,"r":0.36},{"b":"u","h":3.34,"r":0.55},{"b":"u","h":3.4,"r":0.4},{"b":"u","h":3.46,"r":0.52},{"b":"u","h":3.5,"r":0.45},
{"b":"d","h":-3.48,"r":0.44},{"b":"d","h":-3.42,"r":0.4},{"b":"d","h":-3.36,"r":0.36},{"b":"d","h":-3.3,"r":0.42},{"b":"d","h":-3.24,"r":0.33},{"b":"d","h":-3.18,"r":0.37},{"b":"d","h":-3.12,"r":0.3},{"b":"d","h":-3.06,"r":0.34},{"b":"d","h":-3.0,"r":0.28},{"b":"d","h":-2.94,"r":0.31},{"b":"d","h":-2.88,"r":0.27},{"b":"d","h":-2.82,"r":0.3},{"b":"d","h":-2.76,"r":0.25},{"b":"d","h":-2.7,"r":0.28},{"b":"d","h":-2.64,"r":0.23},{"b":"d","h":-2.58,"r":0.26},{"b":"d","h":-2.52,"r":0.22},{"b":"d","h":-2.46,"r":0.25},{"b":"d","h":-2.4,"r":0.2},{"b":"d","h":-2.34,"r":0.24},{"b":"d","h":-2.28,"r":0.19},{"b":"d","h":-2.22,"r":0.23},{"b":"d","h":-2.16,"r":0.18},{"b":"d","h":-2.1,"r":0.22},{"b":"d","h":-2.04,"r":0.17},{"b":"d","h":-1.98,"r":0.21},{"b":"d","h":-1.92,"r":0.16},{"b":"d","h":-1.86,"r":0.2},{"b":"d","h":-1.8,"r":0.15},{"b":"d","h":-1.74,"r":0.19},{"b":"d","h":-1.68,"r":0.14},{"b":"d","h":-1.62,"r":0.18},{"b":"d","h":-1.56,"r":0.13},{"b":"d","h":-1.5,"r":0.17},{"b":"d","h":-1.44,"r":0.12},{"b":"d","h":-1.38,"r":0.16},{"b":"d","h":-1.32,"r":0.11},{"b":"d","h":-1.26,"r":0.16},{"b":"d","h":-1.2,"r":0.1},{"b":"d","h":-1.14,"r":0.15},{"b":"d","h":-1.08,"r":0.09},{"b":"d","h":-1.02,"r":0.14},{"b":"d","h":-0.96,"r":0.08},{"b":"d","h":-0.9,"r":0.14},{"b":"d","h":-0.84,"r":0.09},{"b":"d","h":-0.78,"r":0.13},{"b":"d","h":-0.72,"r":0.07},{"b":"d","h":-0.66,"r":0.13},{"b":"d","h":-0.6,"r":0.08},{"b":"d","h":-0.54,"r":0.12},{"b":"d","h":-0.48,"r":0.07},{"b":"d","h":-0.42,"r":0.13},{"b":"d","h":-0.36,"r":0.08},{"b":"d","h":-0.3,"r":0.12},{"b":"d","h":-0.24,"r":0.07},{"b":"d","h":-0.18,"r":0.11},{"b":"d","h":-0.12,"r":0.08},{"b":"d","h":-0.06,"r":0.13},{"b":"d","h":0.0,"r":0.07},{"b":"d","h":0.06,"r":0.12},{"b":"d","h":0.12,"r":0.08},{"b":"d","h":0.18,"r":0.11},{"b":"d","h":0.24,"r":0.07},{"b":"d","h":0.3,"r":0.12},{"b":"d","h":0.36,"r":0.08},{"b":"d","h":0.42,"r":0.13},{"b":"d","h":0.48,"r":0.07},{"b":"d","h":0.54,"r":0.12},{"b":"d","h":0.6,"r":0.09},{"b":"d","h":0.66,"r":0.13},{"b":"d","h":0.72,"r":0.08},{"b":"d","h":0.78,"r":0.14},{"b":"d","h":0.84,"r":0.09},{"b":"d","h":0.9,"r":0.15},{"b":"d","h":0.96,"r":0.1},{"b":"d","h":1.02,"r":0.15},{"b":"d","h":1.08,"r":0.11},{"b":"d","h":1.14,"r":0.16},{"b":"d","h":1.2,"r":0.11},{"b":"d","h":1.26,"r":0.17},{"b":"d","h":1.32,"r":0.12},{"b":"d","h":1.38,"r":0.18},{"b":"d","h":1.44,"r":0.13},{"b":"d","h":1.5,"r":0.19},{"b":"d","h":1.56,"r":0.13},{"b":"d","h":1.62,"r":0.2},{"b":"d","h":1.68,"r":0.14},{"b":"d","h":1.74,"r":0.21},{"b":"d","h":1.8,"r":0.15},{"b":"d","h":1.86,"r":0.22},{"b":"d","h":1.92,"r":0.16},{"b":"d","h":1.98,"r":0.23},{"b":"d","h":2.04,"r":0.17},{"b":"d","h":2.1,"r":0.24},{"b":"d","h":2.16,"r":0.18},{"b":"d","h":2.22,"r":0.26},{"b":"d","h":2.28,"r":0.19},{"b":"d","h":2.34,"r":0.27},{"b":"d","h":2.4,"r":0.2},{"b":"d","h":2.46,"r":0.29},{"b":"d","h":2.52,"r":0.22},{"b":"d","h":2.58,"r":0.3},{"b":"d","h":2.64,"r":0.23},{"b":"d","h":2.7,"r":0.32},{"b":"d","h":2.76,"r":0.25},{"b":"d","h":2.82,"r":0.34},{"b":"d","h":2.88,"r":0.26},{"b":"d","h":2.94,"r":0.36},{"b":"d","h":3.0,"r":0.28},{"b":"d","h":3.06,"r":0.38},{"b":"d","h":3.12,"r":0.3},{"b":"d","h":3.18,"r":0.4},{"b":"d","h":3.24,"r":0.33},{"b":"d","h":3.3,"r":0.43},{"b":"d","h":3.36,"r":0.38},{"b":"d","h":3.42,"r":0.46},{"b":"d","h":3.48,"r":0.5}
],
"ph":[
{"b":"d","h":-3.52,"r":0.0215},{"b":"d","h":-3.49,"r":0.022},{"b":"d","h":-3.46,"r":0.0205},{"b":"d","h":-3.44,"r":0.018},{"b":"d","h":-3.42,"r":0.0165},{"b":"d","h":-3.39,"r":0.015},{"b":"d","h":-3.36,"r":0.0138},{"b":"d","h":-3.33,"r":0.0125},{"b":"d","h":-3.29,"r":0.0112},{"b":"d","h":-3.25,"r":0.01},{"b":"d","h":-3.2,"r":0.009},{"b":"d","h":-3.15,"r":0.008},{"b":"d","h":-3.09,"r":0.007},{"b":"d","h":-3.02,"r":0.0062},{"b":"d","h":-2.95,"r":0.0055},{"b":"d","h":-2.87,"r":0.0048},{"b":"d","h":-2.78,"r":0.004},{"b":"d","h":-2.68,"r":0.0034},{"b":"d","h":-2.57,"r":0.0028},{"b":"d","h":-2.45,"r":0.0023},{"b":"d","h":-2.32,"r":0.0019},{"b":"d","h":-2.18,"r":0.0015},{"b":"d","h":-2.03,"r":0.0012},{"b":"d","h":-1.87,"r":0.001},{"b":"d","h":-1.7,"r":0.0008},{"b":"d","h":-1.5,"r":0.0006},{"b":"d","h":-1.3,"r":0.0005},{"b":"d","h":-1.1,"r":0.0004},{"b":"d","h":-0.9,"r":0.0003},{"b":"d","h":-0.7,"r":0.0003},{"b":"d","h":-0.5,"r":0.0002},{"b":"d","h":-0.3,"r":0.0002},{"b":"d","h":-0.1,"r":0.0002},{"b":"d","h":0.1,"r":0.0002},{"b":"d","h":0.3,"r":0.0002},{"b":"d","h":0.5,"r":0.0002},{"b":"d","h":0.7,"r":0.0003},{"b":"d","h":0.9,"r":0.0003},{"b":"d","h":1.1,"r":0.0003},{"b":"d","h":1.3,"r":0.0004},{"b":"d","h":1.5,"r":0.0004},{"b":"d","h":1.7,"r":0.0005},{"b":"d","h":1.9,"r":0.0006},{"b":"d","h":2.05,"r":0.0007},{"b":"d","h":2.2,"r":0.0009},{"b":"d","h":2.35,"r":0.0012},{"b":"d","h":2.48,"r":0.0016},{"b":"d","h":2.58,"r":0.002},{"b":"d","h":2.66,"r":0.0026},{"b":"d","h":2.73,"r":0.0034},{"b":"d","h":2.79,"r":0.0042},{"b":"d","h":2.85,"r":0.0055},{"b":"d","h":2.9,"r":0.0048},{"b":"d","h":2.96,"r":0.0065},{"b":"d","h":3.02,"r":0.0078},{"b":"d","h":3.08,"r":0.007},{"b":"d","h":3.13,"r":0.0095},{"b":"d","h":3.18,"r":0.011},{"b":"d","h":3.22,"r":0.0085},{"b":"d","h":3.27,"r":0.013},{"b":"d","h":3.31,"r":0.0105},{"b":"d","h":3.35,"r":0.015},{"b":"d","h":3.39,"r":0.018},{"b":"d","h":3.43,"r":0.014},{"b":"d","h":3.47,"r":0.0125},{"b":"d","h":3.5,"r":0.01},
{"b":"u","h":-3.5,"r":0.0215},{"b":"u","h":-3.47,"r":0.019},{"b":"u","h":-3.44,"r":0.016},{"b":"u","h":-3.41,"r":0.014},{"b":"u","h":-3.38,"r":0.0125},{"b":"u","h":-3.34,"r":0.0112},{"b":"u","h":-3.3,"r":0.01},{"b":"u","h":-3.26,"r":0.009},{"b":"u","h":-3.21,"r":0.0082},{"b":"u","h":-3.16,"r":0.0075},{"b":"u","h":-3.1,"r":0.0066},{"b":"u","h":-3.03,"r":0.0058},{"b":"u","h":-2.96,"r":0.005},{"b":"u","h":-2.88,"r":0.0043},{"b":"u","h":-2.79,"r":0.0037},{"b":"u","h":-2.69,"r":0.0031},{"b":"u","h":-2.58,"r":0.0026},{"b":"u","h":-2.46,"r":0.0021},{"b":"u","h":-2.33,"r":0.0017},{"b":"u","h":-2.19,"r":0.0014},{"b":"u","h":-2.04,"r":0.0011},{"b":"u","h":-1.88,"r":0.0009},{"b":"u","h":-1.71,"r":0.0007},{"b":"u","h":-1.52,"r":0.0005},{"b":"u","h":-1.32,"r":0.0004},{"b":"u","h":-1.12,"r":0.0003},{"b":"u","h":-0.92,"r":0.0003},{"b":"u","h":-0.72,"r":0.0002},{"b":"u","h":-0.52,"r":0.0002},{"b":"u","h":-0.32,"r":0.0001},{"b":"u","h":-0.12,"r":0.0001},{"b":"u","h":0.08,"r":0.0001},{"b":"u","h":0.28,"r":0.0001},{"b":"u","h":0.48,"r":0.0002},{"b":"u","h":0.68,"r":0.0002},{"b":"u","h":0.88,"r":0.0002},{"b":"u","h":1.08,"r":0.0003},{"b":"u","h":1.28,"r":0.0003},{"b":"u","h":1.48,"r":0.0004},{"b":"u","h":1.68,"r":0.0005},{"b":"u","h":1.88,"r":0.0006},{"b":"u","h":2.04,"r":0.0008},{"b":"u","h":2.18,"r":0.001},{"b":"u","h":2.32,"r":0.0013},{"b":"u","h":2.44,"r":0.0017},{"b":"u","h":2.54,"r":0.0021},{"b":"u","h":2.63,"r":0.0027},{"b":"u","h":2.7,"r":0.0033},{"b":"u","h":2.76,"r":0.004},{"b":"u","h":2.82,"r":0.0048},{"b":"u","h":2.88,"r":0.0058},{"b":"u","h":2.93,"r":0.0068},{"b":"u","h":2.98,"r":0.006},{"b":"u","h":3.03,"r":0.008},{"b":"u","h":3.08,"r":0.0095},{"b":"u","h":3.13,"r":0.012},{"b":"u","h":3.17,"r":0.0192},{"b":"u","h":3.21,"r":0.0175},{"b":"u","h":3.26,"r":0.014},{"b":"u","h":3.3,"r":0.0165},{"b":"u","h":3.34,"r":0.023},{"b":"u","h":3.38,"r":0.0285},{"b":"u","h":3.42,"r":0.029},{"b":"u","h":3.46,"r":0.0297},{"b":"u","h":3.49,"r":0.02},{"b":"u","h":3.52,"r":0.0122}
]
},
"concat":[
{"width":222,"height":108,"resolve":{"axis":{"x":"independent","y":"independent"}},"layer":[
 {"data":{"name":"pa"},"mark":{"type":"line","stroke":"#9b30f0","strokeWidth":1},"encoding":{
  "x":{"field":"h","type":"quantitative","scale":{"domain":[-4,4],"nice":false,"zero":false},"axis":{"orient":"bottom","values":[-4,-3,-2,-1,0,1,2,3,4],"labels":false,"title":null}},
  "y":{"field":"r","type":"quantitative","scale":{"domain":[-0.00018,0.00148],"nice":false,"zero":false},"axis":{"orient":"left","values":[0,0.0005,0.001],"labelExpr":"datum.value == 0.0005 ? '' : format(datum.value, '.3f')","labelPadding":7,"title":null}},
  "detail":{"field":"b"}}},
 {"data":{"name":"pa"},"mark":{"type":"circle","fill":"#9b30f0","stroke":"#6a10b0","strokeWidth":0.5,"opacity":1},"encoding":{"x":{"field":"h","type":"quantitative","axis":null},"y":{"field":"r","type":"quantitative","axis":null}}},
 {"data":{"values":[{"h":-0.56,"r":0.00111}]},"mark":{"type":"text","text":"T / T","align":"right","fontSize":21},"encoding":{
  "x":{"field":"h","type":"quantitative","axis":{"orient":"top","values":[-4,-3,-2,-1,0,1,2,3,4],"labelExpr":"datum.value % 2 == 0 ? (datum.value < 0 ? '-' : '') + abs(datum.value) : ''","labelPadding":8,"title":null}},
  "y":{"field":"r","type":"quantitative","axis":{"orient":"right","values":[0,0.0005,0.001],"labels":false,"title":null}}}},
 {"data":{"values":[{"h":-0.56,"r":0.00111}]},"mark":{"type":"text","text":"C","align":"left","fontSize":12,"dx":1,"dy":2},"encoding":{"x":{"field":"h","type":"quantitative","axis":null},"y":{"field":"r","type":"quantitative","axis":null}}},
 {"data":{"values":[{"h":-0.56,"r":0.00111}]},"mark":{"type":"text","text":"= 0.79","align":"left","fontSize":21,"dx":15},"encoding":{"x":{"field":"h","type":"quantitative","axis":null},"y":{"field":"r","type":"quantitative","axis":null}}},
 {"data":{"values":[{"h":-4,"r":-0.000057}]},"mark":{"type":"text","text":"(a)","align":"left","fontSize":23,"dx":-1},"encoding":{"x":{"field":"h","type":"quantitative","axis":null},"y":{"field":"r","type":"quantitative","axis":null}}},
 {"data":{"values":[{"h":1.81,"r":0.00048}]},"mark":{"type":"text","text":"H","align":"center","fontSize":22},"encoding":{"x":{"field":"h","type":"quantitative","axis":null},"y":{"field":"r","type":"quantitative","axis":null}}},
 {"data":{"values":[{"h":2.39,"r":0.000775}]},"mark":{"type":"text","text":"*","align":"center","fontSize":22},"encoding":{"x":{"field":"h","type":"quantitative","axis":null},"y":{"field":"r","type":"quantitative","axis":null}}},
 {"data":{"values":[{"h":1.81,"r":0.00047},{"h":1.81,"r":0.00015}]},"mark":{"type":"line","stroke":"#111","strokeWidth":1.3},"encoding":{"x":{"field":"h","type":"quantitative","axis":null},"y":{"field":"r","type":"quantitative","axis":null}}},
 {"data":{"values":[{"h":1.81,"r":0.00015}]},"mark":{"type":"point","shape":"M-1,-0.7L0,0L-1,0.7","angle":90,"filled":false,"stroke":"#111","strokeWidth":1.3,"size":90,"opacity":1},"encoding":{"x":{"field":"h","type":"quantitative","axis":null},"y":{"field":"r","type":"quantitative","axis":null}}}
]},
{"width":222,"height":108,"resolve":{"axis":{"x":"independent","y":"independent"}},"layer":[
 {"data":{"name":"pe"},"mark":{"type":"line","stroke":"#1a8a8a","strokeWidth":1},"encoding":{
  "x":{"field":"h","type":"quantitative","scale":{"domain":[-4,4],"nice":false,"zero":false},"axis":{"orient":"bottom","values":[-4,-3,-2,-1,0,1,2,3,4],"labels":false,"title":null}},
  "y":{"field":"r","type":"quantitative","scale":{"domain":[-0.0055,0.0893],"nice":false,"zero":false},"axis":{"orient":"left","values":[0,0.035,0.07],"labels":false,"title":null}},
  "detail":{"field":"b"}}},
 {"data":{"name":"pe"},"mark":{"type":"circle","fill":"#1a8a8a","stroke":"#0a5a5a","strokeWidth":0.5,"opacity":1},"encoding":{"x":{"field":"h","type":"quantitative","axis":null},"y":{"field":"r","type":"quantitative","axis":null}}},
 {"data":{"values":[{"h":-0.61,"r":0.0706}]},"mark":{"type":"text","text":"T / T","align":"right","fontSize":21},"encoding":{
  "x":{"field":"h","type":"quantitative","axis":{"orient":"top","values":[-4,-3,-2,-1,0,1,2,3,4],"labelExpr":"datum.value % 2 == 0 ? (datum.value < 0 ? '-' : '') + abs(datum.value) : ''","labelPadding":8,"title":null}},
  "y":{"field":"r","type":"quantitative","axis":{"orient":"right","values":[0,0.035,0.07],"labelExpr":"datum.value == 0.035 ? '' : format(datum.value, '.2f')","labelPadding":12,"title":null}}}},
 {"data":{"values":[{"h":-0.61,"r":0.0706}]},"mark":{"type":"text","text":"C","align":"left","fontSize":12,"dx":1,"dy":2},"encoding":{"x":{"field":"h","type":"quantitative","axis":null},"y":{"field":"r","type":"quantitative","axis":null}}},
 {"data":{"values":[{"h":-0.61,"r":0.0706}]},"mark":{"type":"text","text":"= 0.87","align":"left","fontSize":21,"dx":15},"encoding":{"x":{"field":"h","type":"quantitative","axis":null},"y":{"field":"r","type":"quantitative","axis":null}}},
 {"data":{"values":[{"h":-4,"r":0.0}]},"mark":{"type":"text","text":"(e)","align":"left","fontSize":23,"dx":1},"encoding":{"x":{"field":"h","type":"quantitative","axis":null},"y":{"field":"r","type":"quantitative","axis":null}}},
 {"data":{"values":[{"id":"1","h":-1.17,"r":0.04},{"id":"1","h":-2.55,"r":0.0649},{"id":"2","h":0.51,"r":0.0414},{"id":"2","h":2.01,"r":0.0649},{"id":"3","h":-3.81,"r":0.0514},{"id":"3","h":-3.63,"r":0.0357},{"id":"3","h":-3.33,"r":0.02},{"id":"3","h":-2.85,"r":0.0086},{"id":"3","h":-2.25,"r":0.0014},{"id":"3","h":-1.71,"r":-0.0014},{"id":"4","h":1.53,"r":-0.002},{"id":"4","h":2.19,"r":-0.0009},{"id":"4","h":2.91,"r":0.0043},{"id":"4","h":3.39,"r":0.0143},{"id":"4","h":3.69,"r":0.0271},{"id":"4","h":3.87,"r":0.0443}]},"mark":{"type":"line","stroke":"#111","strokeWidth":1.3,"interpolate":"monotone"},"encoding":{"x":{"field":"h","type":"quantitative","axis":null},"y":{"field":"r","type":"quantitative","axis":null},"detail":{"field":"id"}}},
 {"data":{"values":[{"h":-2.55,"r":0.0649}]},"mark":{"type":"point","shape":"M-1,-0.7L0,0L-1,0.7","angle":217,"filled":false,"stroke":"#111","strokeWidth":1.3,"size":130,"opacity":1},"encoding":{"x":{"field":"h","type":"quantitative","axis":null},"y":{"field":"r","type":"quantitative","axis":null}}},
 {"data":{"values":[{"h":2.01,"r":0.0649}]},"mark":{"type":"point","shape":"M-1,-0.7L0,0L-1,0.7","angle":327,"filled":false,"stroke":"#111","strokeWidth":1.3,"size":130,"opacity":1},"encoding":{"x":{"field":"h","type":"quantitative","axis":null},"y":{"field":"r","type":"quantitative","axis":null}}},
 {"data":{"values":[{"h":-1.71,"r":-0.0014}]},"mark":{"type":"point","shape":"M-1,-0.7L0,0L-1,0.7","angle":13,"filled":false,"stroke":"#111","strokeWidth":1.3,"size":130,"opacity":1},"encoding":{"x":{"field":"h","type":"quantitative","axis":null},"y":{"field":"r","type":"quantitative","axis":null}}},
 {"data":{"values":[{"h":1.53,"r":-0.002}]},"mark":{"type":"point","shape":"M-1,-0.7L0,0L-1,0.7","angle":176,"filled":false,"stroke":"#111","strokeWidth":1.3,"size":130,"opacity":1},"encoding":{"x":{"field":"h","type":"quantitative","axis":null},"y":{"field":"r","type":"quantitative","axis":null}}}
]},
{"width":222,"height":108,"resolve":{"axis":{"x":"independent","y":"independent"}},"layer":[
 {"data":{"name":"pb"},"mark":{"type":"line","stroke":"#f5338f","strokeWidth":1},"encoding":{
  "x":{"field":"h","type":"quantitative","scale":{"domain":[-4,4],"nice":false,"zero":false},"axis":{"orient":"bottom","values":[-4,-3,-2,-1,0,1,2,3,4],"labels":false,"title":null}},
  "y":{"field":"r","type":"quantitative","scale":{"domain":[-0.00026,0.00228],"nice":false,"zero":false},"axis":{"orient":"left","values":[0,0.001,0.002],"labelExpr":"datum.value == 0.001 ? '' : format(datum.value, '.3f')","labelPadding":7,"title":"R (Ω)","titleY":95,"titlePadding":11}},
  "detail":{"field":"b"}}},
 {"data":{"name":"pb"},"mark":{"type":"circle","fill":"#f5338f","stroke":"#c01060","strokeWidth":0.5,"opacity":1},"encoding":{"x":{"field":"h","type":"quantitative","axis":null},"y":{"field":"r","type":"quantitative","axis":null}}},
 {"data":{"values":[{"h":-0.59,"r":0.00166}]},"mark":{"type":"text","text":"T / T","align":"right","fontSize":21},"encoding":{
  "x":{"field":"h","type":"quantitative","axis":{"orient":"top","values":[-4,-3,-2,-1,0,1,2,3,4],"labels":false,"title":null}},
  "y":{"field":"r","type":"quantitative","axis":{"orient":"right","values":[0,0.001,0.002],"labels":false,"title":null}}}},
 {"data":{"values":[{"h":-0.59,"r":0.00166}]},"mark":{"type":"text","text":"C","align":"left","fontSize":12,"dx":1,"dy":2},"encoding":{"x":{"field":"h","type":"quantitative","axis":null},"y":{"field":"r","type":"quantitative","axis":null}}},
 {"data":{"values":[{"h":-0.59,"r":0.00166}]},"mark":{"type":"text","text":"= 0.81","align":"left","fontSize":21,"dx":15},"encoding":{"x":{"field":"h","type":"quantitative","axis":null},"y":{"field":"r","type":"quantitative","axis":null}}},
 {"data":{"values":[{"h":-4,"r":-0.000053}]},"mark":{"type":"text","text":"(b)","align":"left","fontSize":23,"dx":-1},"encoding":{"x":{"field":"h","type":"quantitative","axis":null},"y":{"field":"r","type":"quantitative","axis":null}}},
 {"data":{"values":[{"h":1.03,"r":0.00071}]},"mark":{"type":"text","text":"H","align":"center","fontSize":22},"encoding":{"x":{"field":"h","type":"quantitative","axis":null},"y":{"field":"r","type":"quantitative","axis":null}}},
 {"data":{"values":[{"h":1.55,"r":0.0011}]},"mark":{"type":"text","text":"*","align":"center","fontSize":22},"encoding":{"x":{"field":"h","type":"quantitative","axis":null},"y":{"field":"r","type":"quantitative","axis":null}}},
 {"data":{"values":[{"h":1.03,"r":0.00068},{"h":1.03,"r":0.0002}]},"mark":{"type":"line","stroke":"#111","strokeWidth":1.3},"encoding":{"x":{"field":"h","type":"quantitative","axis":null},"y":{"field":"r","type":"quantitative","axis":null}}},
 {"data":{"values":[{"h":1.03,"r":0.0002}]},"mark":{"type":"point","shape":"M-1,-0.7L0,0L-1,0.7","angle":90,"filled":false,"stroke":"#111","strokeWidth":1.3,"size":90,"opacity":1},"encoding":{"x":{"field":"h","type":"quantitative","axis":null},"y":{"field":"r","type":"quantitative","axis":null}}}
]},
{"width":222,"height":108,"resolve":{"axis":{"x":"independent","y":"independent"}},"layer":[
 {"data":{"name":"pf"},"mark":{"type":"line","stroke":"#800808","strokeWidth":1},"encoding":{
  "x":{"field":"h","type":"quantitative","scale":{"domain":[-4,4],"nice":false,"zero":false},"axis":{"orient":"bottom","values":[-4,-3,-2,-1,0,1,2,3,4],"labels":false,"title":null}},
  "y":{"field":"r","type":"quantitative","scale":{"domain":[-0.0039,0.248],"nice":false,"zero":false},"axis":{"orient":"left","values":[0,0.1,0.2],"labels":false,"title":"R (Ω)","titleY":93,"titlePadding":2}},
  "detail":{"field":"b"}}},
 {"data":{"name":"pf"},"mark":{"type":"circle","fill":"#800808","stroke":"#500000","strokeWidth":0.5,"opacity":1},"encoding":{"x":{"field":"h","type":"quantitative","axis":null},"y":{"field":"r","type":"quantitative","axis":null}}},
 {"data":{"values":[{"h":-0.4,"r":0.19}]},"mark":{"type":"text","text":"T / T","align":"right","fontSize":21},"encoding":{
  "x":{"field":"h","type":"quantitative","axis":{"orient":"top","values":[-4,-3,-2,-1,0,1,2,3,4],"labels":false,"title":null}},
  "y":{"field":"r","type":"quantitative","axis":{"orient":"right","values":[0,0.1,0.2],"labelExpr":"datum.value == 0.1 ? '' : format(datum.value, '.1f')","labelPadding":12,"title":null}}}},
 {"data":{"values":[{"h":-0.4,"r":0.19}]},"mark":{"type":"text","text":"C","align":"left","fontSize":12,"dx":1,"dy":2},"encoding":{"x":{"field":"h","type":"quantitative","axis":null},"y":{"field":"r","type":"quantitative","axis":null}}},
 {"data":{"values":[{"h":-0.4,"r":0.19}]},"mark":{"type":"text","text":"= 0.89","align":"left","fontSize":21,"dx":15},"encoding":{"x":{"field":"h","type":"quantitative","axis":null},"y":{"field":"r","type":"quantitative","axis":null}}},
 {"data":{"values":[{"h":-4,"r":0.0194}]},"mark":{"type":"text","text":"(f)","align":"left","fontSize":23,"dx":1},"encoding":{"x":{"field":"h","type":"quantitative","axis":null},"y":{"field":"r","type":"quantitative","axis":null}}}
]},
{"width":222,"height":108,"resolve":{"axis":{"x":"independent","y":"independent"}},"layer":[
 {"data":{"name":"pc"},"mark":{"type":"line","stroke":"#2020f0","strokeWidth":1},"encoding":{
  "x":{"field":"h","type":"quantitative","scale":{"domain":[-4,4],"nice":false,"zero":false},"axis":{"orient":"bottom","values":[-4,-3,-2,-1,0,1,2,3,4],"labels":false,"title":null}},
  "y":{"field":"r","type":"quantitative","scale":{"domain":[-0.00055,0.0054],"nice":false,"zero":false},"axis":{"orient":"left","values":[0,0.002,0.004],"labelExpr":"datum.value == 0.002 ? '' : format(datum.value, '.3f')","labelPadding":7,"title":null}},
  "detail":{"field":"b"}}},
 {"data":{"name":"pc"},"mark":{"type":"circle","fill":"#2020f0","stroke":"#0000a0","strokeWidth":0.5,"opacity":1},"encoding":{"x":{"field":"h","type":"quantitative","axis":null},"y":{"field":"r","type":"quantitative","axis":null}}},
 {"data":{"values":[{"h":-0.59,"r":0.00424}]},"mark":{"type":"text","text":"T / T","align":"right","fontSize":21},"encoding":{
  "x":{"field":"h","type":"quantitative","axis":{"orient":"top","values":[-4,-3,-2,-1,0,1,2,3,4],"labels":false,"title":null}},
  "y":{"field":"r","type":"quantitative","axis":{"orient":"right","values":[0,0.002,0.004],"labels":false,"title":null}}}},
 {"data":{"values":[{"h":-0.59,"r":0.00424}]},"mark":{"type":"text","text":"C","align":"left","fontSize":12,"dx":1,"dy":2},"encoding":{"x":{"field":"h","type":"quantitative","axis":null},"y":{"field":"r","type":"quantitative","axis":null}}},
 {"data":{"values":[{"h":-0.59,"r":0.00424}]},"mark":{"type":"text","text":"= 0.82","align":"left","fontSize":21,"dx":15},"encoding":{"x":{"field":"h","type":"quantitative","axis":null},"y":{"field":"r","type":"quantitative","axis":null}}},
 {"data":{"values":[{"h":-4,"r":-0.000184}]},"mark":{"type":"text","text":"(c)","align":"left","fontSize":23,"dx":-1},"encoding":{"x":{"field":"h","type":"quantitative","axis":null},"y":{"field":"r","type":"quantitative","axis":null}}},
 {"data":{"values":[{"h":0.71,"r":0.00157}]},"mark":{"type":"text","text":"H","align":"center","fontSize":22},"encoding":{"x":{"field":"h","type":"quantitative","axis":null},"y":{"field":"r","type":"quantitative","axis":null}}},
 {"data":{"values":[{"h":1.25,"r":0.00253}]},"mark":{"type":"text","text":"*","align":"center","fontSize":22},"encoding":{"x":{"field":"h","type":"quantitative","axis":null},"y":{"field":"r","type":"quantitative","axis":null}}},
 {"data":{"values":[{"h":0.71,"r":0.00151},{"h":0.71,"r":0.00031}]},"mark":{"type":"line","stroke":"#111","strokeWidth":1.3},"encoding":{"x":{"field":"h","type":"quantitative","axis":null},"y":{"field":"r","type":"quantitative","axis":null}}},
 {"data":{"values":[{"h":0.71,"r":0.00031}]},"mark":{"type":"point","shape":"M-1,-0.7L0,0L-1,0.7","angle":90,"filled":false,"stroke":"#111","strokeWidth":1.3,"size":90,"opacity":1},"encoding":{"x":{"field":"h","type":"quantitative","axis":null},"y":{"field":"r","type":"quantitative","axis":null}}}
]},
{"width":222,"height":108,"resolve":{"axis":{"x":"independent","y":"independent"}},"layer":[
 {"data":{"name":"pg"},"mark":{"type":"line","stroke":"#128a12","strokeWidth":1},"encoding":{
  "x":{"field":"h","type":"quantitative","scale":{"domain":[-4,4],"nice":false,"zero":false},"axis":{"orient":"bottom","values":[-4,-3,-2,-1,0,1,2,3,4],"labels":false,"title":null}},
  "y":{"field":"r","type":"quantitative","scale":{"domain":[-0.083,0.594],"nice":false,"zero":false},"axis":{"orient":"left","values":[0,0.2,0.4],"labels":false,"title":null}},
  "detail":{"field":"b"}}},
 {"data":{"name":"pg"},"mark":{"type":"circle","fill":"#128a12","stroke":"#085808","strokeWidth":0.5,"opacity":1},"encoding":{"x":{"field":"h","type":"quantitative","axis":null},"y":{"field":"r","type":"quantitative","axis":null}}},
 {"data":{"values":[{"h":-0.58,"r":0.458}]},"mark":{"type":"text","text":"T / T","align":"right","fontSize":21},"encoding":{
  "x":{"field":"h","type":"quantitative","axis":{"orient":"top","values":[-4,-3,-2,-1,0,1,2,3,4],"labels":false,"title":null}},
  "y":{"field":"r","type":"quantitative","axis":{"orient":"right","values":[0,0.2,0.4],"labelExpr":"datum.value == 0.2 ? '' : format(datum.value, '.1f')","labelPadding":12,"title":null}}}},
 {"data":{"values":[{"h":-0.58,"r":0.458}]},"mark":{"type":"text","text":"C","align":"left","fontSize":12,"dx":1,"dy":2},"encoding":{"x":{"field":"h","type":"quantitative","axis":null},"y":{"field":"r","type":"quantitative","axis":null}}},
 {"data":{"values":[{"h":-0.58,"r":0.458}]},"mark":{"type":"text","text":"= 0.91","align":"left","fontSize":21,"dx":15},"encoding":{"x":{"field":"h","type":"quantitative","axis":null},"y":{"field":"r","type":"quantitative","axis":null}}},
 {"data":{"values":[{"h":-4,"r":0.0104}]},"mark":{"type":"text","text":"(g)","align":"left","fontSize":23,"dx":1},"encoding":{"x":{"field":"h","type":"quantitative","axis":null},"y":{"field":"r","type":"quantitative","axis":null}}}
]},
{"width":222,"height":108,"resolve":{"axis":{"x":"independent","y":"independent"}},"layer":[
 {"data":{"name":"pd"},"mark":{"type":"line","stroke":"#1c1ca0","strokeWidth":1},"encoding":{
  "x":{"field":"h","type":"quantitative","scale":{"domain":[-4,4],"nice":false,"zero":false},"axis":{"orient":"bottom","values":[-4,-3,-2,-1,0,1,2,3,4],"labelExpr":"datum.value % 2 == 0 ? (datum.value < 0 ? '-' : '') + abs(datum.value) : ''","labelPadding":7,"title":"H (kOe)","titlePadding":10}},
  "y":{"field":"r","type":"quantitative","scale":{"domain":[-0.0027,0.0321],"nice":false,"zero":false},"axis":{"orient":"left","values":[0,0.01,0.02,0.03],"labelExpr":"datum.value == 0 || datum.value == 0.02 ? format(datum.value, '.2f') : ''","labelPadding":7,"title":null}},
  "detail":{"field":"b"}}},
 {"data":{"name":"pd"},"mark":{"type":"circle","fill":"#1c1ca0","stroke":"#0a0a60","strokeWidth":0.5,"opacity":1},"encoding":{"x":{"field":"h","type":"quantitative","axis":null},"y":{"field":"r","type":"quantitative","axis":null}}},
 {"data":{"values":[{"h":-0.57,"r":0.0247}]},"mark":{"type":"text","text":"T / T","align":"right","fontSize":21},"encoding":{
  "x":{"field":"h","type":"quantitative","axis":{"orient":"top","values":[-4,-3,-2,-1,0,1,2,3,4],"labels":false,"title":null}},
  "y":{"field":"r","type":"quantitative","axis":{"orient":"right","values":[0,0.01,0.02,0.03],"labels":false,"title":null}}}},
 {"data":{"values":[{"h":-0.57,"r":0.0247}]},"mark":{"type":"text","text":"C","align":"left","fontSize":12,"dx":1,"dy":2},"encoding":{"x":{"field":"h","type":"quantitative","axis":null},"y":{"field":"r","type":"quantitative","axis":null}}},
 {"data":{"values":[{"h":-0.57,"r":0.0247}]},"mark":{"type":"text","text":"= 0.85","align":"left","fontSize":21,"dx":15},"encoding":{"x":{"field":"h","type":"quantitative","axis":null},"y":{"field":"r","type":"quantitative","axis":null}}},
 {"data":{"values":[{"h":-4,"r":0.00105}]},"mark":{"type":"text","text":"(d)","align":"left","fontSize":23,"dx":-1},"encoding":{"x":{"field":"h","type":"quantitative","axis":null},"y":{"field":"r","type":"quantitative","axis":null}}}
]},
{"width":222,"height":108,"resolve":{"axis":{"x":"independent","y":"independent"}},"layer":[
 {"data":{"name":"ph"},"mark":{"type":"line","stroke":"#ff1a1a","strokeWidth":1},"encoding":{
  "x":{"field":"h","type":"quantitative","scale":{"domain":[-4,4],"nice":false,"zero":false},"axis":{"orient":"bottom","values":[-4,-3,-2,-1,0,1,2,3,4],"labelExpr":"datum.value % 2 == 0 ? (datum.value < 0 ? '-' : '') + abs(datum.value) : ''","labelPadding":7,"title":"H (kOe)","titlePadding":10}},
  "y":{"field":"r","type":"quantitative","scale":{"domain":[-0.0047,0.0331],"nice":false,"zero":false},"axis":{"orient":"left","values":[0,0.01,0.02,0.03],"labels":false,"title":null}},
  "detail":{"field":"b"}}},
 {"data":{"name":"ph"},"mark":{"type":"circle","fill":"#ff1a1a","stroke":"#c00000","strokeWidth":0.5,"opacity":1},"encoding":{"x":{"field":"h","type":"quantitative","axis":null},"y":{"field":"r","type":"quantitative","axis":null}}},
 {"data":{"values":[{"h":-0.52,"r":0.0238}]},"mark":{"type":"text","text":"T / T","align":"right","fontSize":21},"encoding":{
  "x":{"field":"h","type":"quantitative","axis":{"orient":"top","values":[-4,-3,-2,-1,0,1,2,3,4],"labels":false,"title":null}},
  "y":{"field":"r","type":"quantitative","axis":{"orient":"right","values":[0,0.01,0.02,0.03],"labelExpr":"datum.value == 0 || datum.value == 0.02 ? format(datum.value, '.2f') : ''","labelPadding":12,"title":null}}}},
 {"data":{"values":[{"h":-0.52,"r":0.0238}]},"mark":{"type":"text","text":"C","align":"left","fontSize":12,"dx":1,"dy":2},"encoding":{"x":{"field":"h","type":"quantitative","axis":null},"y":{"field":"r","type":"quantitative","axis":null}}},
 {"data":{"values":[{"h":-0.52,"r":0.0238}]},"mark":{"type":"text","text":"= 0.89","align":"left","fontSize":21,"dx":15},"encoding":{"x":{"field":"h","type":"quantitative","axis":null},"y":{"field":"r","type":"quantitative","axis":null}}},
 {"data":{"values":[{"h":0,"r":0.01395}]},"mark":{"type":"text","text":"unpatterned bilayer","align":"center","fontSize":18},"encoding":{"x":{"field":"h","type":"quantitative","axis":null},"y":{"field":"r","type":"quantitative","axis":null}}},
 {"data":{"values":[{"h":-4,"r":-0.00174}]},"mark":{"type":"text","text":"(h)","align":"left","fontSize":23,"dx":1},"encoding":{"x":{"field":"h","type":"quantitative","axis":null},"y":{"field":"r","type":"quantitative","axis":null}}}
]}
]
}
